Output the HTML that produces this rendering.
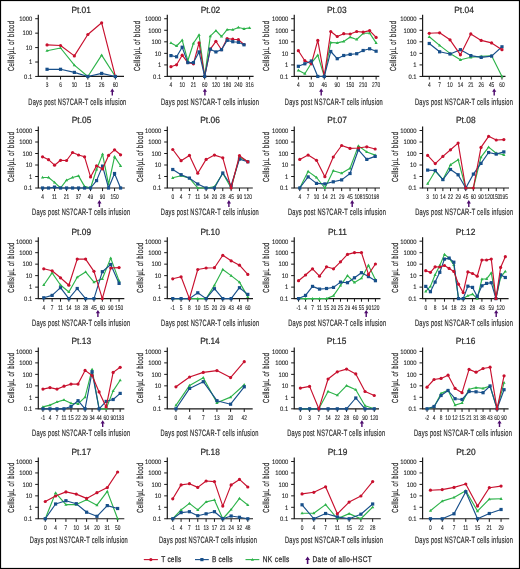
<!DOCTYPE html>
<html><head><meta charset="utf-8"><title>Figure</title>
<style>html,body{margin:0;padding:0;background:#fff;}body{width:520px;height:569px;overflow:hidden;}svg{display:block;will-change:transform;font-family:"Liberation Sans", sans-serif;text-rendering:geometricPrecision;} .b{stroke:#2a2a2a;stroke-width:0.28px;} .xb{stroke:#2a2a2a;stroke-width:0.2px;} .yb{stroke:#2a2a2a;stroke-width:0.22px;} .lb{stroke:#2a2a2a;stroke-width:0.25px;} .c{stroke:#2a2a2a;stroke-width:0.12px;} .t{stroke:#2a2a2a;stroke-width:0.22px;}</style>
</head><body>
<svg xmlns="http://www.w3.org/2000/svg" width="520" height="569" viewBox="0 0 520 569">
<rect x="0" y="0" width="520" height="569" fill="#fff"/>
<defs><circle id="mr" r="1.6" fill="#c8102e"/><rect id="mb" x="-1.6" y="-1.6" width="3.2" height="3.2" fill="#174f8a"/><path id="mg" d="M0,-1.7 L1.6,1.1 L-1.6,1.1 Z" fill="#2db34a"/><path id="ar" d="M0,0 L2.1,3.3 L0.7,3.3 L0.7,6.9 L-0.7,6.9 L-0.7,3.3 L-2.1,3.3 Z" fill="#4e0b6e"/></defs>
<g><text class="t" transform="translate(81.15,12.7) scale(0.93,1)" text-anchor="middle" font-size="9.0" fill="#2a2a2a">Pt.01</text><path d="M38.3,14.73V76.45H124" fill="none" stroke="#1a1a1a" stroke-width="1.2"/><path d="M35.2,76.45H38.3M35.2,62.02H38.3M35.2,47.59H38.3M35.2,33.16H38.3M35.2,18.73H38.3M47.05,76.45V79.55M60.55,76.45V79.55M74.35,76.45V79.55M87.85,76.45V79.55M101.65,76.45V79.55M115.35,76.45V79.55" stroke="#1a1a1a" stroke-width="1"/><text class="c" transform="translate(32.3,78.75) scale(0.92,1)" text-anchor="end" font-size="6.4" fill="#2a2a2a">0.1</text><text class="c" transform="translate(32.3,64.32) scale(0.92,1)" text-anchor="end" font-size="6.4" fill="#2a2a2a">1</text><text class="c" transform="translate(32.3,49.89) scale(0.92,1)" text-anchor="end" font-size="6.4" fill="#2a2a2a">10</text><text class="c" transform="translate(32.3,35.46) scale(0.92,1)" text-anchor="end" font-size="6.4" fill="#2a2a2a">100</text><text class="c" transform="translate(32.3,21.03) scale(0.92,1)" text-anchor="end" font-size="6.4" fill="#2a2a2a">1000</text><text class="c" transform="translate(47.05,87.3) scale(0.71,1)" text-anchor="middle" font-size="6.8" fill="#2a2a2a">3</text><text class="c" transform="translate(60.55,87.3) scale(0.71,1)" text-anchor="middle" font-size="6.8" fill="#2a2a2a">6</text><text class="c" transform="translate(74.35,87.3) scale(0.71,1)" text-anchor="middle" font-size="6.8" fill="#2a2a2a">10</text><text class="c" transform="translate(87.85,87.3) scale(0.71,1)" text-anchor="middle" font-size="6.8" fill="#2a2a2a">13</text><text class="c" transform="translate(101.65,87.3) scale(0.71,1)" text-anchor="middle" font-size="6.8" fill="#2a2a2a">26</text><text class="c" transform="translate(115.35,87.3) scale(0.71,1)" text-anchor="middle" font-size="6.8" fill="#2a2a2a">60</text><polyline points="47.05,50.7 60.55,48 74.35,65.1 87.85,76.45 101.65,55.1 115.35,76.45" fill="none" stroke="#2db34a" stroke-width="1.15" stroke-linejoin="round"/><use href="#mg" x="47.05" y="50.7"/><use href="#mg" x="60.55" y="48"/><use href="#mg" x="74.35" y="65.1"/><use href="#mg" x="87.85" y="76.45"/><use href="#mg" x="101.65" y="55.1"/><use href="#mg" x="115.35" y="76.45"/><polyline points="47.05,44.9 60.55,45.5 74.35,55.9 87.85,34.5 101.65,22.8 115.35,76.45" fill="none" stroke="#c8102e" stroke-width="1.15" stroke-linejoin="round"/><use href="#mr" x="47.05" y="44.9"/><use href="#mr" x="60.55" y="45.5"/><use href="#mr" x="74.35" y="55.9"/><use href="#mr" x="87.85" y="34.5"/><use href="#mr" x="101.65" y="22.8"/><use href="#mr" x="115.35" y="76.45"/><polyline points="47.05,69.3 60.55,69.3 74.35,72.4 87.85,76.45 101.65,73.4 115.35,76.45" fill="none" stroke="#174f8a" stroke-width="1.15" stroke-linejoin="round"/><use href="#mb" x="47.05" y="69.3"/><use href="#mb" x="60.55" y="69.3"/><use href="#mb" x="74.35" y="72.4"/><use href="#mb" x="87.85" y="76.45"/><use href="#mb" x="101.65" y="73.4"/><use href="#mb" x="115.35" y="76.45"/><use href="#ar" x="112.3" y="88.5"/><text class="xb" transform="translate(28.3,104.5) scale(0.62,1)" font-size="9.2" textLength="158.06" lengthAdjust="spacing" fill="#2a2a2a">Days post NS7CAR-T cells infusion</text><text class="yb" transform="translate(13.7,46.05) rotate(-90) scale(0.66,1)" text-anchor="middle" font-size="8.8" textLength="75.76" lengthAdjust="spacing" fill="#2a2a2a">Cells/µL of blood</text></g>
<g><text class="t" transform="translate(210.45,12.7) scale(0.93,1)" text-anchor="middle" font-size="9.0" fill="#2a2a2a">Pt.02</text><path d="M167.3,14.73V76.45H253.6" fill="none" stroke="#1a1a1a" stroke-width="1.2"/><path d="M164.2,76.45H167.3M164.2,64.91H167.3M164.2,53.36H167.3M164.2,41.82H167.3M164.2,30.27H167.3M164.2,18.73H167.3M170.95,76.45V79.55M182.19,76.45V79.55M193.43,76.45V79.55M204.67,76.45V79.55M215.91,76.45V79.55M227.15,76.45V79.55M238.39,76.45V79.55M249.63,76.45V79.55" stroke="#1a1a1a" stroke-width="1"/><text class="c" transform="translate(161.3,78.75) scale(0.92,1)" text-anchor="end" font-size="6.4" fill="#2a2a2a">0.1</text><text class="c" transform="translate(161.3,67.21) scale(0.92,1)" text-anchor="end" font-size="6.4" fill="#2a2a2a">1</text><text class="c" transform="translate(161.3,55.66) scale(0.92,1)" text-anchor="end" font-size="6.4" fill="#2a2a2a">10</text><text class="c" transform="translate(161.3,44.12) scale(0.92,1)" text-anchor="end" font-size="6.4" fill="#2a2a2a">100</text><text class="c" transform="translate(161.3,32.57) scale(0.92,1)" text-anchor="end" font-size="6.4" fill="#2a2a2a">1000</text><text class="c" transform="translate(161.3,21.03) scale(0.92,1)" text-anchor="end" font-size="6.4" fill="#2a2a2a">10000</text><text class="c" transform="translate(170.95,87.3) scale(0.71,1)" text-anchor="middle" font-size="6.8" fill="#2a2a2a">4</text><text class="c" transform="translate(182.19,87.3) scale(0.71,1)" text-anchor="middle" font-size="6.8" fill="#2a2a2a">10</text><text class="c" transform="translate(193.43,87.3) scale(0.71,1)" text-anchor="middle" font-size="6.8" fill="#2a2a2a">21</text><text class="c" transform="translate(204.67,87.3) scale(0.71,1)" text-anchor="middle" font-size="6.8" fill="#2a2a2a">60</text><text class="c" transform="translate(215.91,87.3) scale(0.71,1)" text-anchor="middle" font-size="6.8" fill="#2a2a2a">120</text><text class="c" transform="translate(227.15,87.3) scale(0.71,1)" text-anchor="middle" font-size="6.8" fill="#2a2a2a">180</text><text class="c" transform="translate(238.39,87.3) scale(0.71,1)" text-anchor="middle" font-size="6.8" fill="#2a2a2a">240</text><text class="c" transform="translate(249.63,87.3) scale(0.71,1)" text-anchor="middle" font-size="6.8" fill="#2a2a2a">316</text><polyline points="170.95,42.9 176.57,46 182.19,40.2 187.81,60.7 193.43,43.3 199.05,34.9 204.67,76.45 210.29,36.1 215.91,30.6 221.53,36.5 227.15,29.6 232.77,29.7 238.39,27.5 244.01,28.8 249.63,27.9" fill="none" stroke="#2db34a" stroke-width="1.15" stroke-linejoin="round"/><use href="#mg" x="170.95" y="42.9"/><use href="#mg" x="176.57" y="46"/><use href="#mg" x="182.19" y="40.2"/><use href="#mg" x="187.81" y="60.7"/><use href="#mg" x="193.43" y="43.3"/><use href="#mg" x="199.05" y="34.9"/><use href="#mg" x="204.67" y="76.45"/><use href="#mg" x="210.29" y="36.1"/><use href="#mg" x="215.91" y="30.6"/><use href="#mg" x="221.53" y="36.5"/><use href="#mg" x="227.15" y="29.6"/><use href="#mg" x="232.77" y="29.7"/><use href="#mg" x="238.39" y="27.5"/><use href="#mg" x="244.01" y="28.8"/><use href="#mg" x="249.63" y="27.9"/><polyline points="170.95,66.7 176.57,64.8 182.19,55.2 187.81,62.6 193.43,63.8 199.05,42.9 204.67,76.45 210.29,49.1 215.91,41.3 221.53,49.7 227.15,38.6 232.77,39.2 238.39,39.6 244.01,44.5" fill="none" stroke="#c8102e" stroke-width="1.15" stroke-linejoin="round"/><use href="#mr" x="170.95" y="66.7"/><use href="#mr" x="176.57" y="64.8"/><use href="#mr" x="182.19" y="55.2"/><use href="#mr" x="187.81" y="62.6"/><use href="#mr" x="193.43" y="63.8"/><use href="#mr" x="199.05" y="42.9"/><use href="#mr" x="204.67" y="76.45"/><use href="#mr" x="210.29" y="49.1"/><use href="#mr" x="215.91" y="41.3"/><use href="#mr" x="221.53" y="49.7"/><use href="#mr" x="227.15" y="38.6"/><use href="#mr" x="232.77" y="39.2"/><use href="#mr" x="238.39" y="39.6"/><use href="#mr" x="244.01" y="44.5"/><polyline points="170.95,55.6 176.57,56.8 182.19,47.2 187.81,62.6 193.43,62.6 199.05,51.9 204.67,76.45 210.29,49.2 215.91,51.9 221.53,49.7 227.15,40.4 232.77,41.7 238.39,42.3 244.01,44.8" fill="none" stroke="#174f8a" stroke-width="1.15" stroke-linejoin="round"/><use href="#mb" x="170.95" y="55.6"/><use href="#mb" x="176.57" y="56.8"/><use href="#mb" x="182.19" y="47.2"/><use href="#mb" x="187.81" y="62.6"/><use href="#mb" x="193.43" y="62.6"/><use href="#mb" x="199.05" y="51.9"/><use href="#mb" x="204.67" y="76.45"/><use href="#mb" x="210.29" y="49.2"/><use href="#mb" x="215.91" y="51.9"/><use href="#mb" x="221.53" y="49.7"/><use href="#mb" x="227.15" y="40.4"/><use href="#mb" x="232.77" y="41.7"/><use href="#mb" x="238.39" y="42.3"/><use href="#mb" x="244.01" y="44.8"/><use href="#ar" x="204.9" y="88.5"/><text class="xb" transform="translate(161,104.5) scale(0.62,1)" font-size="9.2" textLength="158.06" lengthAdjust="spacing" fill="#2a2a2a">Days post NS7CAR-T cells infusion</text><text class="yb" transform="translate(139.7,46.05) rotate(-90) scale(0.66,1)" text-anchor="middle" font-size="8.8" textLength="75.76" lengthAdjust="spacing" fill="#2a2a2a">Cells/µL of blood</text></g>
<g><text class="t" transform="translate(336.77,12.7) scale(0.93,1)" text-anchor="middle" font-size="9.0" fill="#2a2a2a">Pt.03</text><path d="M294.25,14.73V76.45H379.3" fill="none" stroke="#1a1a1a" stroke-width="1.2"/><path d="M291.15,76.45H294.25M291.15,64.91H294.25M291.15,53.36H294.25M291.15,41.82H294.25M291.15,30.27H294.25M291.15,18.73H294.25M298.35,76.45V79.55M311.31,76.45V79.55M324.27,76.45V79.55M337.23,76.45V79.55M350.19,76.45V79.55M363.15,76.45V79.55M376.11,76.45V79.55" stroke="#1a1a1a" stroke-width="1"/><text class="c" transform="translate(288.25,78.75) scale(0.92,1)" text-anchor="end" font-size="6.4" fill="#2a2a2a">0.1</text><text class="c" transform="translate(288.25,67.21) scale(0.92,1)" text-anchor="end" font-size="6.4" fill="#2a2a2a">1</text><text class="c" transform="translate(288.25,55.66) scale(0.92,1)" text-anchor="end" font-size="6.4" fill="#2a2a2a">10</text><text class="c" transform="translate(288.25,44.12) scale(0.92,1)" text-anchor="end" font-size="6.4" fill="#2a2a2a">100</text><text class="c" transform="translate(288.25,32.57) scale(0.92,1)" text-anchor="end" font-size="6.4" fill="#2a2a2a">1000</text><text class="c" transform="translate(288.25,21.03) scale(0.92,1)" text-anchor="end" font-size="6.4" fill="#2a2a2a">10000</text><text class="c" transform="translate(298.35,87.3) scale(0.71,1)" text-anchor="middle" font-size="6.8" fill="#2a2a2a">4</text><text class="c" transform="translate(311.31,87.3) scale(0.71,1)" text-anchor="middle" font-size="6.8" fill="#2a2a2a">10</text><text class="c" transform="translate(324.27,87.3) scale(0.71,1)" text-anchor="middle" font-size="6.8" fill="#2a2a2a">46</text><text class="c" transform="translate(337.23,87.3) scale(0.71,1)" text-anchor="middle" font-size="6.8" fill="#2a2a2a">90</text><text class="c" transform="translate(350.19,87.3) scale(0.71,1)" text-anchor="middle" font-size="6.8" fill="#2a2a2a">150</text><text class="c" transform="translate(363.15,87.3) scale(0.71,1)" text-anchor="middle" font-size="6.8" fill="#2a2a2a">210</text><text class="c" transform="translate(376.11,87.3) scale(0.71,1)" text-anchor="middle" font-size="6.8" fill="#2a2a2a">270</text><polyline points="298.35,70.3 304.83,73.7 311.31,63.2 317.79,55.2 324.27,76.45 330.75,42.5 337.23,42.9 343.71,41.4 350.19,37.1 356.67,39.5 363.15,33.3 369.63,33.1 376.11,42.9" fill="none" stroke="#2db34a" stroke-width="1.15" stroke-linejoin="round"/><use href="#mg" x="298.35" y="70.3"/><use href="#mg" x="304.83" y="73.7"/><use href="#mg" x="311.31" y="63.2"/><use href="#mg" x="317.79" y="55.2"/><use href="#mg" x="324.27" y="76.45"/><use href="#mg" x="330.75" y="42.5"/><use href="#mg" x="337.23" y="42.9"/><use href="#mg" x="343.71" y="41.4"/><use href="#mg" x="350.19" y="37.1"/><use href="#mg" x="356.67" y="39.5"/><use href="#mg" x="363.15" y="33.3"/><use href="#mg" x="369.63" y="33.1"/><use href="#mg" x="376.11" y="42.9"/><polyline points="298.35,50.7 304.83,60.7 311.31,63.8 317.79,40.4 324.27,76.45 330.75,31.5 337.23,36.5 343.71,33.7 350.19,34 356.67,31.5 363.15,32.1 369.63,30.6 376.11,37.4" fill="none" stroke="#c8102e" stroke-width="1.15" stroke-linejoin="round"/><use href="#mr" x="298.35" y="50.7"/><use href="#mr" x="304.83" y="60.7"/><use href="#mr" x="311.31" y="63.8"/><use href="#mr" x="317.79" y="40.4"/><use href="#mr" x="324.27" y="76.45"/><use href="#mr" x="330.75" y="31.5"/><use href="#mr" x="337.23" y="36.5"/><use href="#mr" x="343.71" y="33.7"/><use href="#mr" x="350.19" y="34"/><use href="#mr" x="356.67" y="31.5"/><use href="#mr" x="363.15" y="32.1"/><use href="#mr" x="369.63" y="30.6"/><use href="#mr" x="376.11" y="37.4"/><polyline points="298.35,66.3 304.83,63.8 311.31,61 317.79,76.45 324.27,76.45 330.75,51.5 337.23,58.7 343.71,55.5 350.19,54.4 356.67,53.7 363.15,50.5 369.63,48.8 376.11,51.2" fill="none" stroke="#174f8a" stroke-width="1.15" stroke-linejoin="round"/><use href="#mb" x="298.35" y="66.3"/><use href="#mb" x="304.83" y="63.8"/><use href="#mb" x="311.31" y="61"/><use href="#mb" x="317.79" y="76.45"/><use href="#mb" x="324.27" y="76.45"/><use href="#mb" x="330.75" y="51.5"/><use href="#mb" x="337.23" y="58.7"/><use href="#mb" x="343.71" y="55.5"/><use href="#mb" x="350.19" y="54.4"/><use href="#mb" x="356.67" y="53.7"/><use href="#mb" x="363.15" y="50.5"/><use href="#mb" x="369.63" y="48.8"/><use href="#mb" x="376.11" y="51.2"/><use href="#ar" x="321.2" y="88.5"/><text class="xb" transform="translate(284.8,104.5) scale(0.62,1)" font-size="9.2" textLength="158.06" lengthAdjust="spacing" fill="#2a2a2a">Days post NS7CAR-T cells infusion</text><text class="yb" transform="translate(268.8,46.05) rotate(-90) scale(0.66,1)" text-anchor="middle" font-size="8.8" textLength="75.76" lengthAdjust="spacing" fill="#2a2a2a">Cells/µL of blood</text></g>
<g><text class="t" transform="translate(464.05,12.7) scale(0.93,1)" text-anchor="middle" font-size="9.0" fill="#2a2a2a">Pt.04</text><path d="M422.6,14.73V76.45H505.5" fill="none" stroke="#1a1a1a" stroke-width="1.2"/><path d="M419.5,76.45H422.6M419.5,64.91H422.6M419.5,53.36H422.6M419.5,41.82H422.6M419.5,30.27H422.6M419.5,18.73H422.6M429.25,76.45V79.55M439.64,76.45V79.55M450.03,76.45V79.55M460.42,76.45V79.55M470.81,76.45V79.55M481.2,76.45V79.55M491.59,76.45V79.55M501.98,76.45V79.55" stroke="#1a1a1a" stroke-width="1"/><text class="c" transform="translate(416.6,78.75) scale(0.92,1)" text-anchor="end" font-size="6.4" fill="#2a2a2a">0.1</text><text class="c" transform="translate(416.6,67.21) scale(0.92,1)" text-anchor="end" font-size="6.4" fill="#2a2a2a">1</text><text class="c" transform="translate(416.6,55.66) scale(0.92,1)" text-anchor="end" font-size="6.4" fill="#2a2a2a">10</text><text class="c" transform="translate(416.6,44.12) scale(0.92,1)" text-anchor="end" font-size="6.4" fill="#2a2a2a">100</text><text class="c" transform="translate(416.6,32.57) scale(0.92,1)" text-anchor="end" font-size="6.4" fill="#2a2a2a">1000</text><text class="c" transform="translate(416.6,21.03) scale(0.92,1)" text-anchor="end" font-size="6.4" fill="#2a2a2a">10000</text><text class="c" transform="translate(429.25,87.3) scale(0.71,1)" text-anchor="middle" font-size="6.8" fill="#2a2a2a">4</text><text class="c" transform="translate(439.64,87.3) scale(0.71,1)" text-anchor="middle" font-size="6.8" fill="#2a2a2a">7</text><text class="c" transform="translate(450.03,87.3) scale(0.71,1)" text-anchor="middle" font-size="6.8" fill="#2a2a2a">10</text><text class="c" transform="translate(460.42,87.3) scale(0.71,1)" text-anchor="middle" font-size="6.8" fill="#2a2a2a">14</text><text class="c" transform="translate(470.81,87.3) scale(0.71,1)" text-anchor="middle" font-size="6.8" fill="#2a2a2a">21</text><text class="c" transform="translate(481.2,87.3) scale(0.71,1)" text-anchor="middle" font-size="6.8" fill="#2a2a2a">26</text><text class="c" transform="translate(491.59,87.3) scale(0.71,1)" text-anchor="middle" font-size="6.8" fill="#2a2a2a">45</text><text class="c" transform="translate(501.98,87.3) scale(0.71,1)" text-anchor="middle" font-size="6.8" fill="#2a2a2a">60</text><polyline points="429.25,36.8 439.64,45.4 450.03,53.4 460.42,59.8 470.81,57.3 481.2,56.4 491.59,55.8 501.98,76.45" fill="none" stroke="#2db34a" stroke-width="1.15" stroke-linejoin="round"/><use href="#mg" x="429.25" y="36.8"/><use href="#mg" x="439.64" y="45.4"/><use href="#mg" x="450.03" y="53.4"/><use href="#mg" x="460.42" y="59.8"/><use href="#mg" x="470.81" y="57.3"/><use href="#mg" x="481.2" y="56.4"/><use href="#mg" x="491.59" y="55.8"/><use href="#mg" x="501.98" y="76.45"/><polyline points="429.25,43.5 439.64,51.8 450.03,54 460.42,49.7 470.81,55.6 481.2,57.4 491.59,56.1 501.98,46.8" fill="none" stroke="#174f8a" stroke-width="1.15" stroke-linejoin="round"/><use href="#mb" x="429.25" y="43.5"/><use href="#mb" x="439.64" y="51.8"/><use href="#mb" x="450.03" y="54"/><use href="#mb" x="460.42" y="49.7"/><use href="#mb" x="470.81" y="55.6"/><use href="#mb" x="481.2" y="57.4"/><use href="#mb" x="491.59" y="56.1"/><use href="#mb" x="501.98" y="46.8"/><polyline points="429.25,33.3 439.64,32.8 450.03,39.8 460.42,54.8 470.81,33.9 481.2,40.4 491.59,42.9 501.98,49.7" fill="none" stroke="#c8102e" stroke-width="1.15" stroke-linejoin="round"/><use href="#mr" x="429.25" y="33.3"/><use href="#mr" x="439.64" y="32.8"/><use href="#mr" x="450.03" y="39.8"/><use href="#mr" x="460.42" y="54.8"/><use href="#mr" x="470.81" y="33.9"/><use href="#mr" x="481.2" y="40.4"/><use href="#mr" x="491.59" y="42.9"/><use href="#mr" x="501.98" y="49.7"/><use href="#ar" x="494.2" y="88.5"/><text class="xb" transform="translate(415,104.5) scale(0.62,1)" font-size="9.2" textLength="158.06" lengthAdjust="spacing" fill="#2a2a2a">Days post NS7CAR-T cells infusion</text><text class="yb" transform="translate(395.6,46.05) rotate(-90) scale(0.66,1)" text-anchor="middle" font-size="8.8" textLength="75.76" lengthAdjust="spacing" fill="#2a2a2a">Cells/µL of blood</text></g>
<g><text class="t" transform="translate(81.55,123.2) scale(0.93,1)" text-anchor="middle" font-size="9.0" fill="#2a2a2a">Pt.05</text><path d="M38.3,126.5V188H124.8" fill="none" stroke="#1a1a1a" stroke-width="1.2"/><path d="M35.2,188H38.3M35.2,176.5H38.3M35.2,165H38.3M35.2,153.5H38.3M35.2,142H38.3M35.2,130.5H38.3M42.55,188V191.1M54.55,188V191.1M66.55,188V191.1M78.55,188V191.1M90.55,188V191.1M102.55,188V191.1M114.55,188V191.1" stroke="#1a1a1a" stroke-width="1"/><text class="c" transform="translate(32.3,190.3) scale(0.92,1)" text-anchor="end" font-size="6.4" fill="#2a2a2a">0.1</text><text class="c" transform="translate(32.3,178.8) scale(0.92,1)" text-anchor="end" font-size="6.4" fill="#2a2a2a">1</text><text class="c" transform="translate(32.3,167.3) scale(0.92,1)" text-anchor="end" font-size="6.4" fill="#2a2a2a">10</text><text class="c" transform="translate(32.3,155.8) scale(0.92,1)" text-anchor="end" font-size="6.4" fill="#2a2a2a">100</text><text class="c" transform="translate(32.3,144.3) scale(0.92,1)" text-anchor="end" font-size="6.4" fill="#2a2a2a">1000</text><text class="c" transform="translate(32.3,132.8) scale(0.92,1)" text-anchor="end" font-size="6.4" fill="#2a2a2a">10000</text><text class="c" transform="translate(42.55,198.8) scale(0.71,1)" text-anchor="middle" font-size="6.8" fill="#2a2a2a">4</text><text class="c" transform="translate(54.55,198.8) scale(0.71,1)" text-anchor="middle" font-size="6.8" fill="#2a2a2a">11</text><text class="c" transform="translate(66.55,198.8) scale(0.71,1)" text-anchor="middle" font-size="6.8" fill="#2a2a2a">21</text><text class="c" transform="translate(78.55,198.8) scale(0.71,1)" text-anchor="middle" font-size="6.8" fill="#2a2a2a">37</text><text class="c" transform="translate(90.55,198.8) scale(0.71,1)" text-anchor="middle" font-size="6.8" fill="#2a2a2a">49</text><text class="c" transform="translate(102.55,198.8) scale(0.71,1)" text-anchor="middle" font-size="6.8" fill="#2a2a2a">90</text><text class="c" transform="translate(114.55,198.8) scale(0.71,1)" text-anchor="middle" font-size="6.8" fill="#2a2a2a">150</text><polyline points="42.55,177.5 48.55,177.5 54.55,182.4 60.55,188 66.55,180.2 72.55,177.5 78.55,175.9 84.55,186.4 90.55,188 96.55,169.5 102.55,154.1 108.55,184.3 114.55,156.6 120.55,165.8" fill="none" stroke="#2db34a" stroke-width="1.15" stroke-linejoin="round"/><use href="#mg" x="42.55" y="177.5"/><use href="#mg" x="48.55" y="177.5"/><use href="#mg" x="54.55" y="182.4"/><use href="#mg" x="60.55" y="188"/><use href="#mg" x="66.55" y="180.2"/><use href="#mg" x="72.55" y="177.5"/><use href="#mg" x="78.55" y="175.9"/><use href="#mg" x="84.55" y="186.4"/><use href="#mg" x="90.55" y="188"/><use href="#mg" x="96.55" y="169.5"/><use href="#mg" x="102.55" y="154.1"/><use href="#mg" x="108.55" y="184.3"/><use href="#mg" x="114.55" y="156.6"/><use href="#mg" x="120.55" y="165.8"/><polyline points="42.55,188 48.55,188 54.55,187.1 60.55,188 66.55,188 72.55,188 78.55,188 84.55,188 90.55,188 96.55,180.6 102.55,166.1 108.55,188 114.55,173.5 120.55,188" fill="none" stroke="#174f8a" stroke-width="1.15" stroke-linejoin="round"/><use href="#mb" x="42.55" y="188"/><use href="#mb" x="48.55" y="188"/><use href="#mb" x="54.55" y="187.1"/><use href="#mb" x="60.55" y="188"/><use href="#mb" x="66.55" y="188"/><use href="#mb" x="72.55" y="188"/><use href="#mb" x="78.55" y="188"/><use href="#mb" x="84.55" y="188"/><use href="#mb" x="90.55" y="188"/><use href="#mb" x="96.55" y="180.6"/><use href="#mb" x="102.55" y="166.1"/><use href="#mb" x="108.55" y="188"/><use href="#mb" x="114.55" y="173.5"/><use href="#mb" x="120.55" y="188"/><polyline points="42.55,156.8 48.55,159.7 54.55,165.2 60.55,160.3 66.55,160.5 72.55,152.5 78.55,155 84.55,156.8 90.55,176.9 96.55,165.8 102.55,168.9 108.55,155.4 114.55,149.8 120.55,154.8" fill="none" stroke="#c8102e" stroke-width="1.15" stroke-linejoin="round"/><use href="#mr" x="42.55" y="156.8"/><use href="#mr" x="48.55" y="159.7"/><use href="#mr" x="54.55" y="165.2"/><use href="#mr" x="60.55" y="160.3"/><use href="#mr" x="66.55" y="160.5"/><use href="#mr" x="72.55" y="152.5"/><use href="#mr" x="78.55" y="155"/><use href="#mr" x="84.55" y="156.8"/><use href="#mr" x="90.55" y="176.9"/><use href="#mr" x="96.55" y="165.8"/><use href="#mr" x="102.55" y="168.9"/><use href="#mr" x="108.55" y="155.4"/><use href="#mr" x="114.55" y="149.8"/><use href="#mr" x="120.55" y="154.8"/><use href="#ar" x="99.4" y="200.1"/><text class="xb" transform="translate(32.1,215.1) scale(0.62,1)" font-size="9.2" textLength="158.06" lengthAdjust="spacing" fill="#2a2a2a">Days post NS7CAR-T cells infusion</text><text class="yb" transform="translate(13.7,157.1) rotate(-90) scale(0.66,1)" text-anchor="middle" font-size="8.8" textLength="75.76" lengthAdjust="spacing" fill="#2a2a2a">Cells/µL of blood</text></g>
<g><text class="t" transform="translate(210.05,123.2) scale(0.93,1)" text-anchor="middle" font-size="9.0" fill="#2a2a2a">Pt.06</text><path d="M167.3,126.5V188H252.8" fill="none" stroke="#1a1a1a" stroke-width="1.2"/><path d="M164.2,188H167.3M164.2,176.5H167.3M164.2,165H167.3M164.2,153.5H167.3M164.2,142H167.3M164.2,130.5H167.3M172.75,188V191.1M181.09,188V191.1M189.43,188V191.1M197.77,188V191.1M206.11,188V191.1M214.45,188V191.1M222.79,188V191.1M231.13,188V191.1M239.47,188V191.1M247.81,188V191.1" stroke="#1a1a1a" stroke-width="1"/><text class="c" transform="translate(161.3,190.3) scale(0.92,1)" text-anchor="end" font-size="6.4" fill="#2a2a2a">0.1</text><text class="c" transform="translate(161.3,178.8) scale(0.92,1)" text-anchor="end" font-size="6.4" fill="#2a2a2a">1</text><text class="c" transform="translate(161.3,167.3) scale(0.92,1)" text-anchor="end" font-size="6.4" fill="#2a2a2a">10</text><text class="c" transform="translate(161.3,155.8) scale(0.92,1)" text-anchor="end" font-size="6.4" fill="#2a2a2a">100</text><text class="c" transform="translate(161.3,144.3) scale(0.92,1)" text-anchor="end" font-size="6.4" fill="#2a2a2a">1000</text><text class="c" transform="translate(161.3,132.8) scale(0.92,1)" text-anchor="end" font-size="6.4" fill="#2a2a2a">10000</text><text class="c" transform="translate(172.75,198.8) scale(0.71,1)" text-anchor="middle" font-size="6.8" fill="#2a2a2a">0</text><text class="c" transform="translate(181.09,198.8) scale(0.71,1)" text-anchor="middle" font-size="6.8" fill="#2a2a2a">4</text><text class="c" transform="translate(189.43,198.8) scale(0.71,1)" text-anchor="middle" font-size="6.8" fill="#2a2a2a">7</text><text class="c" transform="translate(197.77,198.8) scale(0.71,1)" text-anchor="middle" font-size="6.8" fill="#2a2a2a">11</text><text class="c" transform="translate(206.11,198.8) scale(0.71,1)" text-anchor="middle" font-size="6.8" fill="#2a2a2a">14</text><text class="c" transform="translate(214.45,198.8) scale(0.71,1)" text-anchor="middle" font-size="6.8" fill="#2a2a2a">20</text><text class="c" transform="translate(222.79,198.8) scale(0.71,1)" text-anchor="middle" font-size="6.8" fill="#2a2a2a">28</text><text class="c" transform="translate(231.13,198.8) scale(0.71,1)" text-anchor="middle" font-size="6.8" fill="#2a2a2a">45</text><text class="c" transform="translate(239.47,198.8) scale(0.71,1)" text-anchor="middle" font-size="6.8" fill="#2a2a2a">90</text><text class="c" transform="translate(247.81,198.8) scale(0.71,1)" text-anchor="middle" font-size="6.8" fill="#2a2a2a">120</text><polyline points="172.75,177.8 181.09,175.7 189.43,178.1 197.77,188 206.11,188 214.45,186.8 222.79,173.3 231.13,188 239.47,157.2 247.81,161.5" fill="none" stroke="#2db34a" stroke-width="1.15" stroke-linejoin="round"/><use href="#mg" x="172.75" y="177.8"/><use href="#mg" x="181.09" y="175.7"/><use href="#mg" x="189.43" y="178.1"/><use href="#mg" x="197.77" y="188"/><use href="#mg" x="206.11" y="188"/><use href="#mg" x="214.45" y="186.8"/><use href="#mg" x="222.79" y="173.3"/><use href="#mg" x="231.13" y="188"/><use href="#mg" x="239.47" y="157.2"/><use href="#mg" x="247.81" y="161.5"/><polyline points="172.75,169.5 181.09,174.7 189.43,178.1 197.77,184 206.11,188 214.45,188 222.79,173 231.13,185.5 239.47,159.1 247.81,161.8" fill="none" stroke="#174f8a" stroke-width="1.15" stroke-linejoin="round"/><use href="#mb" x="172.75" y="169.5"/><use href="#mb" x="181.09" y="174.7"/><use href="#mb" x="189.43" y="178.1"/><use href="#mb" x="197.77" y="184"/><use href="#mb" x="206.11" y="188"/><use href="#mb" x="214.45" y="188"/><use href="#mb" x="222.79" y="173"/><use href="#mb" x="231.13" y="185.5"/><use href="#mb" x="239.47" y="159.1"/><use href="#mb" x="247.81" y="161.8"/><polyline points="172.75,149.5 181.09,160.7 189.43,155.4 197.77,173.2 206.11,159.4 214.45,155.1 222.79,157.8 231.13,188 239.47,155.7 247.81,161.8" fill="none" stroke="#c8102e" stroke-width="1.15" stroke-linejoin="round"/><use href="#mr" x="172.75" y="149.5"/><use href="#mr" x="181.09" y="160.7"/><use href="#mr" x="189.43" y="155.4"/><use href="#mr" x="197.77" y="173.2"/><use href="#mr" x="206.11" y="159.4"/><use href="#mr" x="214.45" y="155.1"/><use href="#mr" x="222.79" y="157.8"/><use href="#mr" x="231.13" y="188"/><use href="#mr" x="239.47" y="155.7"/><use href="#mr" x="247.81" y="161.8"/><use href="#ar" x="228.9" y="200.1"/><text class="xb" transform="translate(160.8,215.1) scale(0.62,1)" font-size="9.2" textLength="158.06" lengthAdjust="spacing" fill="#2a2a2a">Days post NS7CAR-T cells infusion</text><text class="yb" transform="translate(142.6,157.1) rotate(-90) scale(0.66,1)" text-anchor="middle" font-size="8.8" textLength="75.76" lengthAdjust="spacing" fill="#2a2a2a">Cells/µL of blood</text></g>
<g><text class="t" transform="translate(337.12,123.2) scale(0.93,1)" text-anchor="middle" font-size="9.0" fill="#2a2a2a">Pt.07</text><path d="M294.25,126.5V188H380" fill="none" stroke="#1a1a1a" stroke-width="1.2"/><path d="M291.15,188H294.25M291.15,176.5H294.25M291.15,165H294.25M291.15,153.5H294.25M291.15,142H294.25M291.15,130.5H294.25M299.75,188V191.1M308.13,188V191.1M316.51,188V191.1M324.89,188V191.1M333.27,188V191.1M341.65,188V191.1M350.03,188V191.1M358.41,188V191.1M366.79,188V191.1M375.17,188V191.1" stroke="#1a1a1a" stroke-width="1"/><text class="c" transform="translate(288.25,190.3) scale(0.92,1)" text-anchor="end" font-size="6.4" fill="#2a2a2a">0.1</text><text class="c" transform="translate(288.25,178.8) scale(0.92,1)" text-anchor="end" font-size="6.4" fill="#2a2a2a">1</text><text class="c" transform="translate(288.25,167.3) scale(0.92,1)" text-anchor="end" font-size="6.4" fill="#2a2a2a">10</text><text class="c" transform="translate(288.25,155.8) scale(0.92,1)" text-anchor="end" font-size="6.4" fill="#2a2a2a">100</text><text class="c" transform="translate(288.25,144.3) scale(0.92,1)" text-anchor="end" font-size="6.4" fill="#2a2a2a">1000</text><text class="c" transform="translate(288.25,132.8) scale(0.92,1)" text-anchor="end" font-size="6.4" fill="#2a2a2a">10000</text><text class="c" transform="translate(299.75,198.8) scale(0.71,1)" text-anchor="middle" font-size="6.8" fill="#2a2a2a">4</text><text class="c" transform="translate(308.13,198.8) scale(0.71,1)" text-anchor="middle" font-size="6.8" fill="#2a2a2a">7</text><text class="c" transform="translate(316.51,198.8) scale(0.71,1)" text-anchor="middle" font-size="6.8" fill="#2a2a2a">10</text><text class="c" transform="translate(324.89,198.8) scale(0.71,1)" text-anchor="middle" font-size="6.8" fill="#2a2a2a">14</text><text class="c" transform="translate(333.27,198.8) scale(0.71,1)" text-anchor="middle" font-size="6.8" fill="#2a2a2a">21</text><text class="c" transform="translate(341.65,198.8) scale(0.71,1)" text-anchor="middle" font-size="6.8" fill="#2a2a2a">29</text><text class="c" transform="translate(350.03,198.8) scale(0.71,1)" text-anchor="middle" font-size="6.8" fill="#2a2a2a">45</text><text class="c" transform="translate(358.41,198.8) scale(0.71,1)" text-anchor="middle" font-size="6.8" fill="#2a2a2a">108</text><text class="c" transform="translate(366.79,198.8) scale(0.71,1)" text-anchor="middle" font-size="6.8" fill="#2a2a2a">150</text><text class="c" transform="translate(375.17,198.8) scale(0.71,1)" text-anchor="middle" font-size="6.8" fill="#2a2a2a">198</text><polyline points="299.75,188 308.13,171.4 316.51,177.5 324.89,188 333.27,170.7 341.65,173.2 350.03,168.3 358.41,145.9 366.79,152 375.17,155.1" fill="none" stroke="#2db34a" stroke-width="1.15" stroke-linejoin="round"/><use href="#mg" x="299.75" y="188"/><use href="#mg" x="308.13" y="171.4"/><use href="#mg" x="316.51" y="177.5"/><use href="#mg" x="324.89" y="188"/><use href="#mg" x="333.27" y="170.7"/><use href="#mg" x="341.65" y="173.2"/><use href="#mg" x="350.03" y="168.3"/><use href="#mg" x="358.41" y="145.9"/><use href="#mg" x="366.79" y="152"/><use href="#mg" x="375.17" y="155.1"/><polyline points="299.75,188 308.13,176.9 316.51,183.4 324.89,183.9 333.27,181.8 341.65,179.9 350.03,173.5 358.41,149.8 366.79,159.4 375.17,156.4" fill="none" stroke="#174f8a" stroke-width="1.15" stroke-linejoin="round"/><use href="#mb" x="299.75" y="188"/><use href="#mb" x="308.13" y="176.9"/><use href="#mb" x="316.51" y="183.4"/><use href="#mb" x="324.89" y="183.9"/><use href="#mb" x="333.27" y="181.8"/><use href="#mb" x="341.65" y="179.9"/><use href="#mb" x="350.03" y="173.5"/><use href="#mb" x="358.41" y="149.8"/><use href="#mb" x="366.79" y="159.4"/><use href="#mb" x="375.17" y="156.4"/><polyline points="299.75,159.4 308.13,155.1 316.51,160.3 324.89,176.7 333.27,157 341.65,145.5 350.03,148.4 358.41,148 366.79,146.8 375.17,149" fill="none" stroke="#c8102e" stroke-width="1.15" stroke-linejoin="round"/><use href="#mr" x="299.75" y="159.4"/><use href="#mr" x="308.13" y="155.1"/><use href="#mr" x="316.51" y="160.3"/><use href="#mr" x="324.89" y="176.7"/><use href="#mr" x="333.27" y="157"/><use href="#mr" x="341.65" y="145.5"/><use href="#mr" x="350.03" y="148.4"/><use href="#mr" x="358.41" y="148"/><use href="#mr" x="366.79" y="146.8"/><use href="#mr" x="375.17" y="149"/><use href="#ar" x="352.2" y="200.1"/><text class="xb" transform="translate(287.9,215.1) scale(0.62,1)" font-size="9.2" textLength="158.06" lengthAdjust="spacing" fill="#2a2a2a">Days post NS7CAR-T cells infusion</text><text class="yb" transform="translate(268.9,157.1) rotate(-90) scale(0.66,1)" text-anchor="middle" font-size="8.8" textLength="75.76" lengthAdjust="spacing" fill="#2a2a2a">Cells/µL of blood</text></g>
<g><text class="t" transform="translate(465.8,123.2) scale(0.93,1)" text-anchor="middle" font-size="9.0" fill="#2a2a2a">Pt.08</text><path d="M422.6,126.5V188H509" fill="none" stroke="#1a1a1a" stroke-width="1.2"/><path d="M419.5,188H422.6M419.5,176.5H422.6M419.5,165H422.6M419.5,153.5H422.6M419.5,142H422.6M419.5,130.5H422.6M427.65,188V191.1M435.27,188V191.1M442.89,188V191.1M450.51,188V191.1M458.13,188V191.1M465.75,188V191.1M473.37,188V191.1M480.99,188V191.1M488.61,188V191.1M496.23,188V191.1M503.85,188V191.1" stroke="#1a1a1a" stroke-width="1"/><text class="c" transform="translate(416.6,190.3) scale(0.92,1)" text-anchor="end" font-size="6.4" fill="#2a2a2a">0.1</text><text class="c" transform="translate(416.6,178.8) scale(0.92,1)" text-anchor="end" font-size="6.4" fill="#2a2a2a">1</text><text class="c" transform="translate(416.6,167.3) scale(0.92,1)" text-anchor="end" font-size="6.4" fill="#2a2a2a">10</text><text class="c" transform="translate(416.6,155.8) scale(0.92,1)" text-anchor="end" font-size="6.4" fill="#2a2a2a">100</text><text class="c" transform="translate(416.6,144.3) scale(0.92,1)" text-anchor="end" font-size="6.4" fill="#2a2a2a">1000</text><text class="c" transform="translate(416.6,132.8) scale(0.92,1)" text-anchor="end" font-size="6.4" fill="#2a2a2a">10000</text><text class="c" transform="translate(427.65,198.8) scale(0.71,1)" text-anchor="middle" font-size="6.8" fill="#2a2a2a">3</text><text class="c" transform="translate(435.27,198.8) scale(0.71,1)" text-anchor="middle" font-size="6.8" fill="#2a2a2a">10</text><text class="c" transform="translate(442.89,198.8) scale(0.71,1)" text-anchor="middle" font-size="6.8" fill="#2a2a2a">14</text><text class="c" transform="translate(450.51,198.8) scale(0.71,1)" text-anchor="middle" font-size="6.8" fill="#2a2a2a">22</text><text class="c" transform="translate(458.13,198.8) scale(0.71,1)" text-anchor="middle" font-size="6.8" fill="#2a2a2a">29</text><text class="c" transform="translate(465.75,198.8) scale(0.71,1)" text-anchor="middle" font-size="6.8" fill="#2a2a2a">45</text><text class="c" transform="translate(473.37,198.8) scale(0.71,1)" text-anchor="middle" font-size="6.8" fill="#2a2a2a">60</text><text class="c" transform="translate(480.99,198.8) scale(0.71,1)" text-anchor="middle" font-size="6.8" fill="#2a2a2a">90</text><text class="c" transform="translate(488.61,198.8) scale(0.71,1)" text-anchor="middle" font-size="6.8" fill="#2a2a2a">120</text><text class="c" transform="translate(496.23,198.8) scale(0.71,1)" text-anchor="middle" font-size="6.8" fill="#2a2a2a">150</text><text class="c" transform="translate(503.85,198.8) scale(0.71,1)" text-anchor="middle" font-size="6.8" fill="#2a2a2a">195</text><polyline points="427.65,183.7 435.27,171 442.89,179.6 450.51,164.8 458.13,159.7 465.75,188 473.37,188 480.99,157.2 488.61,147.1 496.23,153.3 503.85,154.8" fill="none" stroke="#2db34a" stroke-width="1.15" stroke-linejoin="round"/><use href="#mg" x="427.65" y="183.7"/><use href="#mg" x="435.27" y="171"/><use href="#mg" x="442.89" y="179.6"/><use href="#mg" x="450.51" y="164.8"/><use href="#mg" x="458.13" y="159.7"/><use href="#mg" x="465.75" y="188"/><use href="#mg" x="473.37" y="188"/><use href="#mg" x="480.99" y="157.2"/><use href="#mg" x="488.61" y="147.1"/><use href="#mg" x="496.23" y="153.3"/><use href="#mg" x="503.85" y="154.8"/><polyline points="427.65,170.1 435.27,170.5 442.89,179.6 450.51,169.5 458.13,174.8 465.75,188 473.37,174.1 480.99,163.4 488.61,152.5 496.23,154.1 503.85,151.9" fill="none" stroke="#174f8a" stroke-width="1.15" stroke-linejoin="round"/><use href="#mb" x="427.65" y="170.1"/><use href="#mb" x="435.27" y="170.5"/><use href="#mb" x="442.89" y="179.6"/><use href="#mb" x="450.51" y="169.5"/><use href="#mb" x="458.13" y="174.8"/><use href="#mb" x="465.75" y="188"/><use href="#mb" x="473.37" y="174.1"/><use href="#mb" x="480.99" y="163.4"/><use href="#mb" x="488.61" y="152.5"/><use href="#mb" x="496.23" y="154.1"/><use href="#mb" x="503.85" y="151.9"/><polyline points="427.65,155.4 435.27,163.6 442.89,156.4 450.51,149.8 458.13,143.1 465.75,188 473.37,188 480.99,147.4 488.61,136.3 496.23,140 503.85,139.6" fill="none" stroke="#c8102e" stroke-width="1.15" stroke-linejoin="round"/><use href="#mr" x="427.65" y="155.4"/><use href="#mr" x="435.27" y="163.6"/><use href="#mr" x="442.89" y="156.4"/><use href="#mr" x="450.51" y="149.8"/><use href="#mr" x="458.13" y="143.1"/><use href="#mr" x="465.75" y="188"/><use href="#mr" x="473.37" y="188"/><use href="#mr" x="480.99" y="147.4"/><use href="#mr" x="488.61" y="136.3"/><use href="#mr" x="496.23" y="140"/><use href="#mr" x="503.85" y="139.6"/><use href="#ar" x="468.8" y="200.1"/><text class="xb" transform="translate(415.2,215.1) scale(0.62,1)" font-size="9.2" textLength="158.06" lengthAdjust="spacing" fill="#2a2a2a">Days post NS7CAR-T cells infusion</text><text class="yb" transform="translate(397.7,157.1) rotate(-90) scale(0.66,1)" text-anchor="middle" font-size="8.8" textLength="75.76" lengthAdjust="spacing" fill="#2a2a2a">Cells/µL of blood</text></g>
<g><text class="t" transform="translate(81.3,234.9) scale(0.93,1)" text-anchor="middle" font-size="9.0" fill="#2a2a2a">Pt.09</text><path d="M38.3,237.2V298.6H124.3" fill="none" stroke="#1a1a1a" stroke-width="1.2"/><path d="M35.2,298.6H38.3M35.2,287.12H38.3M35.2,275.64H38.3M35.2,264.16H38.3M35.2,252.68H38.3M35.2,241.2H38.3M43.75,298.6V301.7M52.12,298.6V301.7M60.49,298.6V301.7M68.86,298.6V301.7M77.23,298.6V301.7M85.6,298.6V301.7M93.97,298.6V301.7M102.34,298.6V301.7M110.71,298.6V301.7M119.08,298.6V301.7" stroke="#1a1a1a" stroke-width="1"/><text class="c" transform="translate(32.3,300.9) scale(0.92,1)" text-anchor="end" font-size="6.4" fill="#2a2a2a">0.1</text><text class="c" transform="translate(32.3,289.42) scale(0.92,1)" text-anchor="end" font-size="6.4" fill="#2a2a2a">1</text><text class="c" transform="translate(32.3,277.94) scale(0.92,1)" text-anchor="end" font-size="6.4" fill="#2a2a2a">10</text><text class="c" transform="translate(32.3,266.46) scale(0.92,1)" text-anchor="end" font-size="6.4" fill="#2a2a2a">100</text><text class="c" transform="translate(32.3,254.98) scale(0.92,1)" text-anchor="end" font-size="6.4" fill="#2a2a2a">1000</text><text class="c" transform="translate(32.3,243.5) scale(0.92,1)" text-anchor="end" font-size="6.4" fill="#2a2a2a">10000</text><text class="c" transform="translate(43.75,309.6) scale(0.71,1)" text-anchor="middle" font-size="6.8" fill="#2a2a2a">4</text><text class="c" transform="translate(52.12,309.6) scale(0.71,1)" text-anchor="middle" font-size="6.8" fill="#2a2a2a">7</text><text class="c" transform="translate(60.49,309.6) scale(0.71,1)" text-anchor="middle" font-size="6.8" fill="#2a2a2a">11</text><text class="c" transform="translate(68.86,309.6) scale(0.71,1)" text-anchor="middle" font-size="6.8" fill="#2a2a2a">14</text><text class="c" transform="translate(77.23,309.6) scale(0.71,1)" text-anchor="middle" font-size="6.8" fill="#2a2a2a">18</text><text class="c" transform="translate(85.6,309.6) scale(0.71,1)" text-anchor="middle" font-size="6.8" fill="#2a2a2a">28</text><text class="c" transform="translate(93.97,309.6) scale(0.71,1)" text-anchor="middle" font-size="6.8" fill="#2a2a2a">45</text><text class="c" transform="translate(102.34,309.6) scale(0.71,1)" text-anchor="middle" font-size="6.8" fill="#2a2a2a">60</text><text class="c" transform="translate(110.71,309.6) scale(0.71,1)" text-anchor="middle" font-size="6.8" fill="#2a2a2a">90</text><text class="c" transform="translate(119.08,309.6) scale(0.71,1)" text-anchor="middle" font-size="6.8" fill="#2a2a2a">150</text><polyline points="43.75,285 52.12,272.9 60.49,285 68.86,292 77.23,277.2 85.6,271.9 93.97,282.1 102.34,278.8 110.71,258.1 119.08,280.9" fill="none" stroke="#2db34a" stroke-width="1.15" stroke-linejoin="round"/><use href="#mg" x="43.75" y="285"/><use href="#mg" x="52.12" y="272.9"/><use href="#mg" x="60.49" y="285"/><use href="#mg" x="68.86" y="292"/><use href="#mg" x="77.23" y="277.2"/><use href="#mg" x="85.6" y="271.9"/><use href="#mg" x="93.97" y="282.1"/><use href="#mg" x="102.34" y="278.8"/><use href="#mg" x="110.71" y="258.1"/><use href="#mg" x="119.08" y="280.9"/><polyline points="43.75,297.8 52.12,295.4 60.49,287.7 68.86,298.6 77.23,288.5 85.6,298.6 93.97,298.6 102.34,271.7 110.71,264.5 119.08,283.4" fill="none" stroke="#174f8a" stroke-width="1.15" stroke-linejoin="round"/><use href="#mb" x="43.75" y="297.8"/><use href="#mb" x="52.12" y="295.4"/><use href="#mb" x="60.49" y="287.7"/><use href="#mb" x="68.86" y="298.6"/><use href="#mb" x="77.23" y="288.5"/><use href="#mb" x="85.6" y="298.6"/><use href="#mb" x="93.97" y="298.6"/><use href="#mb" x="102.34" y="271.7"/><use href="#mb" x="110.71" y="264.5"/><use href="#mb" x="119.08" y="283.4"/><polyline points="43.75,268.8 52.12,270.8 60.49,277.8 68.86,285.2 77.23,259.1 85.6,259.1 93.97,271.3 102.34,298.6 110.71,268 119.08,267.6" fill="none" stroke="#c8102e" stroke-width="1.15" stroke-linejoin="round"/><use href="#mr" x="43.75" y="268.8"/><use href="#mr" x="52.12" y="270.8"/><use href="#mr" x="60.49" y="277.8"/><use href="#mr" x="68.86" y="285.2"/><use href="#mr" x="77.23" y="259.1"/><use href="#mr" x="85.6" y="259.1"/><use href="#mr" x="93.97" y="271.3"/><use href="#mr" x="102.34" y="298.6"/><use href="#mr" x="110.71" y="268"/><use href="#mr" x="119.08" y="267.6"/><use href="#ar" x="97.9" y="310"/><text class="xb" transform="translate(32.1,325.5) scale(0.62,1)" font-size="9.2" textLength="158.06" lengthAdjust="spacing" fill="#2a2a2a">Days post NS7CAR-T cells infusion</text><text class="yb" transform="translate(13.7,267.7) rotate(-90) scale(0.66,1)" text-anchor="middle" font-size="8.8" textLength="75.76" lengthAdjust="spacing" fill="#2a2a2a">Cells/µL of blood</text></g>
<g><text class="t" transform="translate(210.15,234.9) scale(0.93,1)" text-anchor="middle" font-size="9.0" fill="#2a2a2a">Pt.10</text><path d="M167.3,237.2V298.6H253" fill="none" stroke="#1a1a1a" stroke-width="1.2"/><path d="M164.2,298.6H167.3M164.2,287.12H167.3M164.2,275.64H167.3M164.2,264.16H167.3M164.2,252.68H167.3M164.2,241.2H167.3M172.75,298.6V301.7M181.09,298.6V301.7M189.43,298.6V301.7M197.77,298.6V301.7M206.11,298.6V301.7M214.45,298.6V301.7M222.79,298.6V301.7M231.13,298.6V301.7M239.47,298.6V301.7M247.81,298.6V301.7" stroke="#1a1a1a" stroke-width="1"/><text class="c" transform="translate(161.3,300.9) scale(0.92,1)" text-anchor="end" font-size="6.4" fill="#2a2a2a">0.1</text><text class="c" transform="translate(161.3,289.42) scale(0.92,1)" text-anchor="end" font-size="6.4" fill="#2a2a2a">1</text><text class="c" transform="translate(161.3,277.94) scale(0.92,1)" text-anchor="end" font-size="6.4" fill="#2a2a2a">10</text><text class="c" transform="translate(161.3,266.46) scale(0.92,1)" text-anchor="end" font-size="6.4" fill="#2a2a2a">100</text><text class="c" transform="translate(161.3,254.98) scale(0.92,1)" text-anchor="end" font-size="6.4" fill="#2a2a2a">1000</text><text class="c" transform="translate(161.3,243.5) scale(0.92,1)" text-anchor="end" font-size="6.4" fill="#2a2a2a">10000</text><text class="c" transform="translate(172.75,309.6) scale(0.71,1)" text-anchor="middle" font-size="6.8" fill="#2a2a2a">-1</text><text class="c" transform="translate(181.09,309.6) scale(0.71,1)" text-anchor="middle" font-size="6.8" fill="#2a2a2a">5</text><text class="c" transform="translate(189.43,309.6) scale(0.71,1)" text-anchor="middle" font-size="6.8" fill="#2a2a2a">8</text><text class="c" transform="translate(197.77,309.6) scale(0.71,1)" text-anchor="middle" font-size="6.8" fill="#2a2a2a">10</text><text class="c" transform="translate(206.11,309.6) scale(0.71,1)" text-anchor="middle" font-size="6.8" fill="#2a2a2a">15</text><text class="c" transform="translate(214.45,309.6) scale(0.71,1)" text-anchor="middle" font-size="6.8" fill="#2a2a2a">20</text><text class="c" transform="translate(222.79,309.6) scale(0.71,1)" text-anchor="middle" font-size="6.8" fill="#2a2a2a">29</text><text class="c" transform="translate(231.13,309.6) scale(0.71,1)" text-anchor="middle" font-size="6.8" fill="#2a2a2a">43</text><text class="c" transform="translate(239.47,309.6) scale(0.71,1)" text-anchor="middle" font-size="6.8" fill="#2a2a2a">48</text><text class="c" transform="translate(247.81,309.6) scale(0.71,1)" text-anchor="middle" font-size="6.8" fill="#2a2a2a">60</text><polyline points="172.75,298.6 181.09,298.6 189.43,298.6 197.77,298.6 206.11,298.6 214.45,285.3 222.79,269.5 231.13,275.6 239.47,282.1 247.81,296.9" fill="none" stroke="#2db34a" stroke-width="1.15" stroke-linejoin="round"/><use href="#mg" x="172.75" y="298.6"/><use href="#mg" x="181.09" y="298.6"/><use href="#mg" x="189.43" y="298.6"/><use href="#mg" x="197.77" y="298.6"/><use href="#mg" x="206.11" y="298.6"/><use href="#mg" x="214.45" y="285.3"/><use href="#mg" x="222.79" y="269.5"/><use href="#mg" x="231.13" y="275.6"/><use href="#mg" x="239.47" y="282.1"/><use href="#mg" x="247.81" y="296.9"/><polyline points="172.75,298.6 181.09,298.6 189.43,298.6 197.77,292.8 206.11,298.6 214.45,288.7 222.79,298.6 231.13,298.6 239.47,287.7 247.81,294.4" fill="none" stroke="#174f8a" stroke-width="1.15" stroke-linejoin="round"/><use href="#mb" x="172.75" y="298.6"/><use href="#mb" x="181.09" y="298.6"/><use href="#mb" x="189.43" y="298.6"/><use href="#mb" x="197.77" y="292.8"/><use href="#mb" x="206.11" y="298.6"/><use href="#mb" x="214.45" y="288.7"/><use href="#mb" x="222.79" y="298.6"/><use href="#mb" x="231.13" y="298.6"/><use href="#mb" x="239.47" y="287.7"/><use href="#mb" x="247.81" y="294.4"/><polyline points="172.75,278.8 181.09,276.8 189.43,298.6 197.77,269.5 206.11,268 214.45,267.7 222.79,255.3 231.13,260.8 239.47,265.2 247.81,274.4" fill="none" stroke="#c8102e" stroke-width="1.15" stroke-linejoin="round"/><use href="#mr" x="172.75" y="278.8"/><use href="#mr" x="181.09" y="276.8"/><use href="#mr" x="189.43" y="298.6"/><use href="#mr" x="197.77" y="269.5"/><use href="#mr" x="206.11" y="268"/><use href="#mr" x="214.45" y="267.7"/><use href="#mr" x="222.79" y="255.3"/><use href="#mr" x="231.13" y="260.8"/><use href="#mr" x="239.47" y="265.2"/><use href="#mr" x="247.81" y="274.4"/><text class="xb" transform="translate(161.1,325.5) scale(0.62,1)" font-size="9.2" textLength="158.06" lengthAdjust="spacing" fill="#2a2a2a">Days post NS7CAR-T cells infusion</text><text class="yb" transform="translate(142.6,267.7) rotate(-90) scale(0.66,1)" text-anchor="middle" font-size="8.8" textLength="75.76" lengthAdjust="spacing" fill="#2a2a2a">Cells/µL of blood</text></g>
<g><text class="t" transform="translate(337.38,234.9) scale(0.93,1)" text-anchor="middle" font-size="9.0" fill="#2a2a2a">Pt.11</text><path d="M294.25,237.2V298.6H380.5" fill="none" stroke="#1a1a1a" stroke-width="1.2"/><path d="M291.15,298.6H294.25M291.15,287.12H294.25M291.15,275.64H294.25M291.15,264.16H294.25M291.15,252.68H294.25M291.15,241.2H294.25M298.55,298.6V301.7M305.54,298.6V301.7M312.53,298.6V301.7M319.52,298.6V301.7M326.51,298.6V301.7M333.5,298.6V301.7M340.49,298.6V301.7M347.48,298.6V301.7M354.47,298.6V301.7M361.46,298.6V301.7M368.45,298.6V301.7M375.44,298.6V301.7" stroke="#1a1a1a" stroke-width="1"/><text class="c" transform="translate(288.25,300.9) scale(0.92,1)" text-anchor="end" font-size="6.4" fill="#2a2a2a">0.1</text><text class="c" transform="translate(288.25,289.42) scale(0.92,1)" text-anchor="end" font-size="6.4" fill="#2a2a2a">1</text><text class="c" transform="translate(288.25,277.94) scale(0.92,1)" text-anchor="end" font-size="6.4" fill="#2a2a2a">10</text><text class="c" transform="translate(288.25,266.46) scale(0.92,1)" text-anchor="end" font-size="6.4" fill="#2a2a2a">100</text><text class="c" transform="translate(288.25,254.98) scale(0.92,1)" text-anchor="end" font-size="6.4" fill="#2a2a2a">1000</text><text class="c" transform="translate(288.25,243.5) scale(0.92,1)" text-anchor="end" font-size="6.4" fill="#2a2a2a">10000</text><text class="c" transform="translate(298.55,309.6) scale(0.71,1)" text-anchor="middle" font-size="6.8" fill="#2a2a2a">-1</text><text class="c" transform="translate(305.54,309.6) scale(0.71,1)" text-anchor="middle" font-size="6.8" fill="#2a2a2a">4</text><text class="c" transform="translate(312.53,309.6) scale(0.71,1)" text-anchor="middle" font-size="6.8" fill="#2a2a2a">7</text><text class="c" transform="translate(319.52,309.6) scale(0.71,1)" text-anchor="middle" font-size="6.8" fill="#2a2a2a">11</text><text class="c" transform="translate(326.51,309.6) scale(0.71,1)" text-anchor="middle" font-size="6.8" fill="#2a2a2a">15</text><text class="c" transform="translate(333.5,309.6) scale(0.71,1)" text-anchor="middle" font-size="6.8" fill="#2a2a2a">20</text><text class="c" transform="translate(340.49,309.6) scale(0.71,1)" text-anchor="middle" font-size="6.8" fill="#2a2a2a">25</text><text class="c" transform="translate(347.48,309.6) scale(0.71,1)" text-anchor="middle" font-size="6.8" fill="#2a2a2a">29</text><text class="c" transform="translate(354.47,309.6) scale(0.71,1)" text-anchor="middle" font-size="6.8" fill="#2a2a2a">46</text><text class="c" transform="translate(361.46,309.6) scale(0.71,1)" text-anchor="middle" font-size="6.8" fill="#2a2a2a">55</text><text class="c" transform="translate(368.45,309.6) scale(0.71,1)" text-anchor="middle" font-size="6.8" fill="#2a2a2a">90</text><text class="c" transform="translate(375.44,309.6) scale(0.71,1)" text-anchor="middle" font-size="6.8" fill="#2a2a2a">120</text><polyline points="298.55,298.6 305.54,298.6 312.53,298.6 319.52,298.6 326.51,298.6 333.5,295.7 340.49,285.5 347.48,275.6 354.47,282.5 361.46,278.2 368.45,265.3 375.44,279.7" fill="none" stroke="#2db34a" stroke-width="1.15" stroke-linejoin="round"/><use href="#mg" x="298.55" y="298.6"/><use href="#mg" x="305.54" y="298.6"/><use href="#mg" x="312.53" y="298.6"/><use href="#mg" x="319.52" y="298.6"/><use href="#mg" x="326.51" y="298.6"/><use href="#mg" x="333.5" y="295.7"/><use href="#mg" x="340.49" y="285.5"/><use href="#mg" x="347.48" y="275.6"/><use href="#mg" x="354.47" y="282.5"/><use href="#mg" x="361.46" y="278.2"/><use href="#mg" x="368.45" y="265.3"/><use href="#mg" x="375.44" y="279.7"/><polyline points="298.55,298.6 305.54,295.4 312.53,286.4 319.52,289.1 326.51,288.5 333.5,287.4 340.49,282.1 347.48,282.7 354.47,277.8 361.46,272.7 368.45,276.6 375.44,280.7" fill="none" stroke="#174f8a" stroke-width="1.15" stroke-linejoin="round"/><use href="#mb" x="298.55" y="298.6"/><use href="#mb" x="305.54" y="295.4"/><use href="#mb" x="312.53" y="286.4"/><use href="#mb" x="319.52" y="289.1"/><use href="#mb" x="326.51" y="288.5"/><use href="#mb" x="333.5" y="287.4"/><use href="#mb" x="340.49" y="282.1"/><use href="#mb" x="347.48" y="282.7"/><use href="#mb" x="354.47" y="277.8"/><use href="#mb" x="361.46" y="272.7"/><use href="#mb" x="368.45" y="276.6"/><use href="#mb" x="375.44" y="280.7"/><polyline points="298.55,280.7 305.54,275 312.53,268.8 319.52,276.2 326.51,266.8 333.5,268.8 340.49,261.8 347.48,254.4 354.47,252.6 361.46,252.6 368.45,274.4 375.44,264" fill="none" stroke="#c8102e" stroke-width="1.15" stroke-linejoin="round"/><use href="#mr" x="298.55" y="280.7"/><use href="#mr" x="305.54" y="275"/><use href="#mr" x="312.53" y="268.8"/><use href="#mr" x="319.52" y="276.2"/><use href="#mr" x="326.51" y="266.8"/><use href="#mr" x="333.5" y="268.8"/><use href="#mr" x="340.49" y="261.8"/><use href="#mr" x="347.48" y="254.4"/><use href="#mr" x="354.47" y="252.6"/><use href="#mr" x="361.46" y="252.6"/><use href="#mr" x="368.45" y="274.4"/><use href="#mr" x="375.44" y="264"/><use href="#ar" x="366.2" y="310"/><text class="xb" transform="translate(288.2,325.5) scale(0.62,1)" font-size="9.2" textLength="158.06" lengthAdjust="spacing" fill="#2a2a2a">Days post NS7CAR-T cells infusion</text><text class="yb" transform="translate(268.9,267.7) rotate(-90) scale(0.66,1)" text-anchor="middle" font-size="8.8" textLength="75.76" lengthAdjust="spacing" fill="#2a2a2a">Cells/µL of blood</text></g>
<g><text class="t" transform="translate(465.6,234.9) scale(0.93,1)" text-anchor="middle" font-size="9.0" fill="#2a2a2a">Pt.12</text><path d="M422.6,237.2V298.6H508.6" fill="none" stroke="#1a1a1a" stroke-width="1.2"/><path d="M419.5,298.6H422.6M419.5,287.12H422.6M419.5,275.64H422.6M419.5,264.16H422.6M419.5,252.68H422.6M419.5,241.2H422.6M425.75,298.6V301.7M435.11,298.6V301.7M444.47,298.6V301.7M453.83,298.6V301.7M463.19,298.6V301.7M472.55,298.6V301.7M481.91,298.6V301.7M491.27,298.6V301.7M500.63,298.6V301.7" stroke="#1a1a1a" stroke-width="1"/><text class="c" transform="translate(416.6,300.9) scale(0.92,1)" text-anchor="end" font-size="6.4" fill="#2a2a2a">0.1</text><text class="c" transform="translate(416.6,289.42) scale(0.92,1)" text-anchor="end" font-size="6.4" fill="#2a2a2a">1</text><text class="c" transform="translate(416.6,277.94) scale(0.92,1)" text-anchor="end" font-size="6.4" fill="#2a2a2a">10</text><text class="c" transform="translate(416.6,266.46) scale(0.92,1)" text-anchor="end" font-size="6.4" fill="#2a2a2a">100</text><text class="c" transform="translate(416.6,254.98) scale(0.92,1)" text-anchor="end" font-size="6.4" fill="#2a2a2a">1000</text><text class="c" transform="translate(416.6,243.5) scale(0.92,1)" text-anchor="end" font-size="6.4" fill="#2a2a2a">10000</text><text class="c" transform="translate(425.75,309.6) scale(0.71,1)" text-anchor="middle" font-size="6.8" fill="#2a2a2a">0</text><text class="c" transform="translate(435.11,309.6) scale(0.71,1)" text-anchor="middle" font-size="6.8" fill="#2a2a2a">8</text><text class="c" transform="translate(444.47,309.6) scale(0.71,1)" text-anchor="middle" font-size="6.8" fill="#2a2a2a">14</text><text class="c" transform="translate(453.83,309.6) scale(0.71,1)" text-anchor="middle" font-size="6.8" fill="#2a2a2a">18</text><text class="c" transform="translate(463.19,309.6) scale(0.71,1)" text-anchor="middle" font-size="6.8" fill="#2a2a2a">23</text><text class="c" transform="translate(472.55,309.6) scale(0.71,1)" text-anchor="middle" font-size="6.8" fill="#2a2a2a">28</text><text class="c" transform="translate(481.91,309.6) scale(0.71,1)" text-anchor="middle" font-size="6.8" fill="#2a2a2a">43</text><text class="c" transform="translate(491.27,309.6) scale(0.71,1)" text-anchor="middle" font-size="6.8" fill="#2a2a2a">59</text><text class="c" transform="translate(500.63,309.6) scale(0.71,1)" text-anchor="middle" font-size="6.8" fill="#2a2a2a">120</text><polyline points="425.75,291.4 430.43,286.4 435.11,274.8 439.79,265.5 444.47,254.4 449.15,258.1 453.83,264.9 458.51,298.6 463.19,298.6 467.87,295.7 472.55,294.1 477.23,298.6 481.91,279.1 486.59,278.8 491.27,272.9 495.95,298.6 500.63,277.2 505.31,271.4" fill="none" stroke="#2db34a" stroke-width="1.15" stroke-linejoin="round"/><use href="#mg" x="425.75" y="291.4"/><use href="#mg" x="430.43" y="286.4"/><use href="#mg" x="435.11" y="274.8"/><use href="#mg" x="439.79" y="265.5"/><use href="#mg" x="444.47" y="254.4"/><use href="#mg" x="449.15" y="258.1"/><use href="#mg" x="453.83" y="264.9"/><use href="#mg" x="458.51" y="298.6"/><use href="#mg" x="463.19" y="298.6"/><use href="#mg" x="467.87" y="295.7"/><use href="#mg" x="472.55" y="294.1"/><use href="#mg" x="477.23" y="298.6"/><use href="#mg" x="481.91" y="279.1"/><use href="#mg" x="486.59" y="278.8"/><use href="#mg" x="491.27" y="272.9"/><use href="#mg" x="495.95" y="298.6"/><use href="#mg" x="500.63" y="277.2"/><use href="#mg" x="505.31" y="271.4"/><polyline points="425.75,286.4 430.43,291.7 435.11,282.1 439.79,272.3 444.47,259.1 449.15,258.1 453.83,262.2 458.51,298.6 463.19,298.6 467.87,286.2 472.55,287.4 477.23,296.5 481.91,285.8 486.59,283.4 491.27,282.7 495.95,298.6 500.63,274.8 505.31,277.5" fill="none" stroke="#174f8a" stroke-width="1.15" stroke-linejoin="round"/><use href="#mb" x="425.75" y="286.4"/><use href="#mb" x="430.43" y="291.7"/><use href="#mb" x="435.11" y="282.1"/><use href="#mb" x="439.79" y="272.3"/><use href="#mb" x="444.47" y="259.1"/><use href="#mb" x="449.15" y="258.1"/><use href="#mb" x="453.83" y="262.2"/><use href="#mb" x="458.51" y="298.6"/><use href="#mb" x="463.19" y="298.6"/><use href="#mb" x="467.87" y="286.2"/><use href="#mb" x="472.55" y="287.4"/><use href="#mb" x="477.23" y="296.5"/><use href="#mb" x="481.91" y="285.8"/><use href="#mb" x="486.59" y="283.4"/><use href="#mb" x="491.27" y="282.7"/><use href="#mb" x="495.95" y="298.6"/><use href="#mb" x="500.63" y="274.8"/><use href="#mb" x="505.31" y="277.5"/><polyline points="425.75,270.7 430.43,272.3 435.11,266.8 439.79,267 444.47,265.5 449.15,268.4 453.83,271.4 458.51,284.2 463.19,292.6 467.87,271.9 472.55,273.5 477.23,276.2 481.91,260 486.59,260 491.27,259.1 495.95,298.6 500.63,267.4 505.31,256.7" fill="none" stroke="#c8102e" stroke-width="1.15" stroke-linejoin="round"/><use href="#mr" x="425.75" y="270.7"/><use href="#mr" x="430.43" y="272.3"/><use href="#mr" x="435.11" y="266.8"/><use href="#mr" x="439.79" y="267"/><use href="#mr" x="444.47" y="265.5"/><use href="#mr" x="449.15" y="268.4"/><use href="#mr" x="453.83" y="271.4"/><use href="#mr" x="458.51" y="284.2"/><use href="#mr" x="463.19" y="292.6"/><use href="#mr" x="467.87" y="271.9"/><use href="#mr" x="472.55" y="273.5"/><use href="#mr" x="477.23" y="276.2"/><use href="#mr" x="481.91" y="260"/><use href="#mr" x="486.59" y="260"/><use href="#mr" x="491.27" y="259.1"/><use href="#mr" x="495.95" y="298.6"/><use href="#mr" x="500.63" y="267.4"/><use href="#mr" x="505.31" y="256.7"/><use href="#ar" x="496.2" y="310"/><text class="xb" transform="translate(415,325.5) scale(0.62,1)" font-size="9.2" textLength="158.06" lengthAdjust="spacing" fill="#2a2a2a">Days post NS7CAR-T cells infusion</text><text class="yb" transform="translate(397.7,267.7) rotate(-90) scale(0.66,1)" text-anchor="middle" font-size="8.8" textLength="75.76" lengthAdjust="spacing" fill="#2a2a2a">Cells/µL of blood</text></g>
<g><text class="t" transform="translate(81.3,343.9) scale(0.93,1)" text-anchor="middle" font-size="9.0" fill="#2a2a2a">Pt.13</text><path d="M38.3,347.4V408.8H124.3" fill="none" stroke="#1a1a1a" stroke-width="1.2"/><path d="M35.2,408.8H38.3M35.2,397.32H38.3M35.2,385.84H38.3M35.2,374.36H38.3M35.2,362.88H38.3M35.2,351.4H38.3M42.95,408.8V411.9M49.97,408.8V411.9M56.99,408.8V411.9M64.01,408.8V411.9M71.03,408.8V411.9M78.05,408.8V411.9M85.07,408.8V411.9M92.09,408.8V411.9M99.11,408.8V411.9M106.13,408.8V411.9M113.15,408.8V411.9M120.17,408.8V411.9" stroke="#1a1a1a" stroke-width="1"/><text class="c" transform="translate(32.3,411.1) scale(0.92,1)" text-anchor="end" font-size="6.4" fill="#2a2a2a">0.1</text><text class="c" transform="translate(32.3,399.62) scale(0.92,1)" text-anchor="end" font-size="6.4" fill="#2a2a2a">1</text><text class="c" transform="translate(32.3,388.14) scale(0.92,1)" text-anchor="end" font-size="6.4" fill="#2a2a2a">10</text><text class="c" transform="translate(32.3,376.66) scale(0.92,1)" text-anchor="end" font-size="6.4" fill="#2a2a2a">100</text><text class="c" transform="translate(32.3,365.18) scale(0.92,1)" text-anchor="end" font-size="6.4" fill="#2a2a2a">1000</text><text class="c" transform="translate(32.3,353.7) scale(0.92,1)" text-anchor="end" font-size="6.4" fill="#2a2a2a">10000</text><text class="c" transform="translate(42.95,419.8) scale(0.71,1)" text-anchor="middle" font-size="6.8" fill="#2a2a2a">-1</text><text class="c" transform="translate(49.97,419.8) scale(0.71,1)" text-anchor="middle" font-size="6.8" fill="#2a2a2a">4</text><text class="c" transform="translate(56.99,419.8) scale(0.71,1)" text-anchor="middle" font-size="6.8" fill="#2a2a2a">7</text><text class="c" transform="translate(64.01,419.8) scale(0.71,1)" text-anchor="middle" font-size="6.8" fill="#2a2a2a">11</text><text class="c" transform="translate(71.03,419.8) scale(0.71,1)" text-anchor="middle" font-size="6.8" fill="#2a2a2a">15</text><text class="c" transform="translate(78.05,419.8) scale(0.71,1)" text-anchor="middle" font-size="6.8" fill="#2a2a2a">22</text><text class="c" transform="translate(85.07,419.8) scale(0.71,1)" text-anchor="middle" font-size="6.8" fill="#2a2a2a">29</text><text class="c" transform="translate(92.09,419.8) scale(0.71,1)" text-anchor="middle" font-size="6.8" fill="#2a2a2a">34</text><text class="c" transform="translate(99.11,419.8) scale(0.71,1)" text-anchor="middle" font-size="6.8" fill="#2a2a2a">44</text><text class="c" transform="translate(106.13,419.8) scale(0.71,1)" text-anchor="middle" font-size="6.8" fill="#2a2a2a">60</text><text class="c" transform="translate(113.15,419.8) scale(0.71,1)" text-anchor="middle" font-size="6.8" fill="#2a2a2a">90</text><text class="c" transform="translate(120.17,419.8) scale(0.71,1)" text-anchor="middle" font-size="6.8" fill="#2a2a2a">133</text><polyline points="42.95,406.9 49.97,405.1 56.99,402 64.01,399.9 71.03,403.2 78.05,403.8 85.07,397.1 92.09,369.4 99.11,408.8 106.13,408.8 113.15,390.9 120.17,380.2" fill="none" stroke="#2db34a" stroke-width="1.15" stroke-linejoin="round"/><use href="#mg" x="42.95" y="406.9"/><use href="#mg" x="49.97" y="405.1"/><use href="#mg" x="56.99" y="402"/><use href="#mg" x="64.01" y="399.9"/><use href="#mg" x="71.03" y="403.2"/><use href="#mg" x="78.05" y="403.8"/><use href="#mg" x="85.07" y="397.1"/><use href="#mg" x="92.09" y="369.4"/><use href="#mg" x="99.11" y="408.8"/><use href="#mg" x="106.13" y="408.8"/><use href="#mg" x="113.15" y="390.9"/><use href="#mg" x="120.17" y="380.2"/><polyline points="42.95,408.8 49.97,408.8 56.99,408.8 64.01,408.8 71.03,406.5 78.05,400.7 85.07,408.8 92.09,371.8 99.11,408.8 106.13,401.4 113.15,399.5 120.17,393.4" fill="none" stroke="#174f8a" stroke-width="1.15" stroke-linejoin="round"/><use href="#mb" x="42.95" y="408.8"/><use href="#mb" x="49.97" y="408.8"/><use href="#mb" x="56.99" y="408.8"/><use href="#mb" x="64.01" y="408.8"/><use href="#mb" x="71.03" y="406.5"/><use href="#mb" x="78.05" y="400.7"/><use href="#mb" x="85.07" y="408.8"/><use href="#mb" x="92.09" y="371.8"/><use href="#mb" x="99.11" y="408.8"/><use href="#mb" x="106.13" y="401.4"/><use href="#mb" x="113.15" y="399.5"/><use href="#mb" x="120.17" y="393.4"/><polyline points="42.95,389.1 49.97,387.6 56.99,389.1 64.01,386.2 71.03,384.1 78.05,384.1 85.07,370.4 92.09,375.5 99.11,391.9 106.13,406.9 113.15,372.4 120.17,367.3" fill="none" stroke="#c8102e" stroke-width="1.15" stroke-linejoin="round"/><use href="#mr" x="42.95" y="389.1"/><use href="#mr" x="49.97" y="387.6"/><use href="#mr" x="56.99" y="389.1"/><use href="#mr" x="64.01" y="386.2"/><use href="#mr" x="71.03" y="384.1"/><use href="#mr" x="78.05" y="384.1"/><use href="#mr" x="85.07" y="370.4"/><use href="#mr" x="92.09" y="375.5"/><use href="#mr" x="99.11" y="391.9"/><use href="#mr" x="106.13" y="406.9"/><use href="#mr" x="113.15" y="372.4"/><use href="#mr" x="120.17" y="367.3"/><use href="#ar" x="102.7" y="420.2"/><text class="xb" transform="translate(32.1,435.5) scale(0.62,1)" font-size="9.2" textLength="158.06" lengthAdjust="spacing" fill="#2a2a2a">Days post NS7CAR-T cells infusion</text><text class="yb" transform="translate(13.7,377.9) rotate(-90) scale(0.66,1)" text-anchor="middle" font-size="8.8" textLength="75.76" lengthAdjust="spacing" fill="#2a2a2a">Cells/µL of blood</text></g>
<g><text class="t" transform="translate(210,343.9) scale(0.93,1)" text-anchor="middle" font-size="9.0" fill="#2a2a2a">Pt.14</text><path d="M167.3,347.4V408.8H252.7" fill="none" stroke="#1a1a1a" stroke-width="1.2"/><path d="M164.2,408.8H167.3M164.2,397.32H167.3M164.2,385.84H167.3M164.2,374.36H167.3M164.2,362.88H167.3M164.2,351.4H167.3M175.95,408.8V411.9M189.61,408.8V411.9M203.27,408.8V411.9M216.93,408.8V411.9M230.59,408.8V411.9M244.25,408.8V411.9" stroke="#1a1a1a" stroke-width="1"/><text class="c" transform="translate(161.3,411.1) scale(0.92,1)" text-anchor="end" font-size="6.4" fill="#2a2a2a">0.1</text><text class="c" transform="translate(161.3,399.62) scale(0.92,1)" text-anchor="end" font-size="6.4" fill="#2a2a2a">1</text><text class="c" transform="translate(161.3,388.14) scale(0.92,1)" text-anchor="end" font-size="6.4" fill="#2a2a2a">10</text><text class="c" transform="translate(161.3,376.66) scale(0.92,1)" text-anchor="end" font-size="6.4" fill="#2a2a2a">100</text><text class="c" transform="translate(161.3,365.18) scale(0.92,1)" text-anchor="end" font-size="6.4" fill="#2a2a2a">1000</text><text class="c" transform="translate(161.3,353.7) scale(0.92,1)" text-anchor="end" font-size="6.4" fill="#2a2a2a">10000</text><text class="c" transform="translate(175.95,419.8) scale(0.71,1)" text-anchor="middle" font-size="6.8" fill="#2a2a2a">0</text><text class="c" transform="translate(189.61,419.8) scale(0.71,1)" text-anchor="middle" font-size="6.8" fill="#2a2a2a">4</text><text class="c" transform="translate(203.27,419.8) scale(0.71,1)" text-anchor="middle" font-size="6.8" fill="#2a2a2a">7</text><text class="c" transform="translate(216.93,419.8) scale(0.71,1)" text-anchor="middle" font-size="6.8" fill="#2a2a2a">13</text><text class="c" transform="translate(230.59,419.8) scale(0.71,1)" text-anchor="middle" font-size="6.8" fill="#2a2a2a">20</text><text class="c" transform="translate(244.25,419.8) scale(0.71,1)" text-anchor="middle" font-size="6.8" fill="#2a2a2a">42</text><polyline points="175.95,405.3 189.61,385.4 203.27,377.7 216.93,402.8 230.59,397.1 244.25,384.8" fill="none" stroke="#2db34a" stroke-width="1.15" stroke-linejoin="round"/><use href="#mg" x="175.95" y="405.3"/><use href="#mg" x="189.61" y="385.4"/><use href="#mg" x="203.27" y="377.7"/><use href="#mg" x="216.93" y="402.8"/><use href="#mg" x="230.59" y="397.1"/><use href="#mg" x="244.25" y="384.8"/><polyline points="175.95,408.8 189.61,388.4 203.27,381.7 216.93,400.7 230.59,404.2 244.25,386.8" fill="none" stroke="#174f8a" stroke-width="1.15" stroke-linejoin="round"/><use href="#mb" x="175.95" y="408.8"/><use href="#mb" x="189.61" y="388.4"/><use href="#mb" x="203.27" y="381.7"/><use href="#mb" x="216.93" y="400.7"/><use href="#mb" x="230.59" y="404.2"/><use href="#mb" x="244.25" y="386.8"/><polyline points="175.95,386.8 189.61,377 203.27,372.4 216.93,370.6 230.59,377.6 244.25,361.7" fill="none" stroke="#c8102e" stroke-width="1.15" stroke-linejoin="round"/><use href="#mr" x="175.95" y="386.8"/><use href="#mr" x="189.61" y="377"/><use href="#mr" x="203.27" y="372.4"/><use href="#mr" x="216.93" y="370.6"/><use href="#mr" x="230.59" y="377.6"/><use href="#mr" x="244.25" y="361.7"/><text class="xb" transform="translate(160.5,435.5) scale(0.62,1)" font-size="9.2" textLength="158.06" lengthAdjust="spacing" fill="#2a2a2a">Days post NS7CAR-T cells infusion</text><text class="yb" transform="translate(142.6,377.9) rotate(-90) scale(0.66,1)" text-anchor="middle" font-size="8.8" textLength="75.76" lengthAdjust="spacing" fill="#2a2a2a">Cells/µL of blood</text></g>
<g><text class="t" transform="translate(336.62,343.9) scale(0.93,1)" text-anchor="middle" font-size="9.0" fill="#2a2a2a">Pt.15</text><path d="M294.25,347.4V408.8H379" fill="none" stroke="#1a1a1a" stroke-width="1.2"/><path d="M291.15,408.8H294.25M291.15,397.32H294.25M291.15,385.84H294.25M291.15,374.36H294.25M291.15,362.88H294.25M291.15,351.4H294.25M300.35,408.8V411.9M309.59,408.8V411.9M318.83,408.8V411.9M328.07,408.8V411.9M337.31,408.8V411.9M346.55,408.8V411.9M355.79,408.8V411.9M365.03,408.8V411.9M374.27,408.8V411.9" stroke="#1a1a1a" stroke-width="1"/><text class="c" transform="translate(288.25,411.1) scale(0.92,1)" text-anchor="end" font-size="6.4" fill="#2a2a2a">0.1</text><text class="c" transform="translate(288.25,399.62) scale(0.92,1)" text-anchor="end" font-size="6.4" fill="#2a2a2a">1</text><text class="c" transform="translate(288.25,388.14) scale(0.92,1)" text-anchor="end" font-size="6.4" fill="#2a2a2a">10</text><text class="c" transform="translate(288.25,376.66) scale(0.92,1)" text-anchor="end" font-size="6.4" fill="#2a2a2a">100</text><text class="c" transform="translate(288.25,365.18) scale(0.92,1)" text-anchor="end" font-size="6.4" fill="#2a2a2a">1000</text><text class="c" transform="translate(288.25,353.7) scale(0.92,1)" text-anchor="end" font-size="6.4" fill="#2a2a2a">10000</text><text class="c" transform="translate(300.35,419.8) scale(0.71,1)" text-anchor="middle" font-size="6.8" fill="#2a2a2a">0</text><text class="c" transform="translate(309.59,419.8) scale(0.71,1)" text-anchor="middle" font-size="6.8" fill="#2a2a2a">3</text><text class="c" transform="translate(318.83,419.8) scale(0.71,1)" text-anchor="middle" font-size="6.8" fill="#2a2a2a">7</text><text class="c" transform="translate(328.07,419.8) scale(0.71,1)" text-anchor="middle" font-size="6.8" fill="#2a2a2a">14</text><text class="c" transform="translate(337.31,419.8) scale(0.71,1)" text-anchor="middle" font-size="6.8" fill="#2a2a2a">22</text><text class="c" transform="translate(346.55,419.8) scale(0.71,1)" text-anchor="middle" font-size="6.8" fill="#2a2a2a">28</text><text class="c" transform="translate(355.79,419.8) scale(0.71,1)" text-anchor="middle" font-size="6.8" fill="#2a2a2a">60</text><text class="c" transform="translate(365.03,419.8) scale(0.71,1)" text-anchor="middle" font-size="6.8" fill="#2a2a2a">90</text><text class="c" transform="translate(374.27,419.8) scale(0.71,1)" text-anchor="middle" font-size="6.8" fill="#2a2a2a">120</text><polyline points="300.35,408.8 309.59,408.8 318.83,408.8 328.07,391.5 337.31,395.2 346.55,385.6 355.79,389.7 365.03,405.7 374.27,408.8" fill="none" stroke="#2db34a" stroke-width="1.15" stroke-linejoin="round"/><use href="#mg" x="300.35" y="408.8"/><use href="#mg" x="309.59" y="408.8"/><use href="#mg" x="318.83" y="408.8"/><use href="#mg" x="328.07" y="391.5"/><use href="#mg" x="337.31" y="395.2"/><use href="#mg" x="346.55" y="385.6"/><use href="#mg" x="355.79" y="389.7"/><use href="#mg" x="365.03" y="405.7"/><use href="#mg" x="374.27" y="408.8"/><polyline points="300.35,408.8 309.59,408.8 318.83,408.8 328.07,408.8 337.31,408.8 346.55,408.8 355.79,398 365.03,408.8 374.27,408.8" fill="none" stroke="#174f8a" stroke-width="1.15" stroke-linejoin="round"/><use href="#mb" x="300.35" y="408.8"/><use href="#mb" x="309.59" y="408.8"/><use href="#mb" x="318.83" y="408.8"/><use href="#mb" x="328.07" y="408.8"/><use href="#mb" x="337.31" y="408.8"/><use href="#mb" x="346.55" y="408.8"/><use href="#mb" x="355.79" y="398"/><use href="#mb" x="365.03" y="408.8"/><use href="#mb" x="374.27" y="408.8"/><polyline points="300.35,388.1 309.59,386.4 318.83,408.8 328.07,379 337.31,371.8 346.55,369.1 355.79,373.9 365.03,391.5 374.27,395.5" fill="none" stroke="#c8102e" stroke-width="1.15" stroke-linejoin="round"/><use href="#mr" x="300.35" y="388.1"/><use href="#mr" x="309.59" y="386.4"/><use href="#mr" x="318.83" y="408.8"/><use href="#mr" x="328.07" y="379"/><use href="#mr" x="337.31" y="371.8"/><use href="#mr" x="346.55" y="369.1"/><use href="#mr" x="355.79" y="373.9"/><use href="#mr" x="365.03" y="391.5"/><use href="#mr" x="374.27" y="395.5"/><use href="#ar" x="361.9" y="420.2"/><text class="xb" transform="translate(287.2,435.5) scale(0.62,1)" font-size="9.2" textLength="158.06" lengthAdjust="spacing" fill="#2a2a2a">Days post NS7CAR-T cells infusion</text><text class="yb" transform="translate(268.9,377.9) rotate(-90) scale(0.66,1)" text-anchor="middle" font-size="8.8" textLength="75.76" lengthAdjust="spacing" fill="#2a2a2a">Cells/µL of blood</text></g>
<g><text class="t" transform="translate(465.6,343.9) scale(0.93,1)" text-anchor="middle" font-size="9.0" fill="#2a2a2a">Pt.16</text><path d="M422.6,347.4V408.8H508.6" fill="none" stroke="#1a1a1a" stroke-width="1.2"/><path d="M419.5,408.8H422.6M419.5,397.32H422.6M419.5,385.84H422.6M419.5,374.36H422.6M419.5,362.88H422.6M419.5,351.4H422.6M427.05,408.8V411.9M434.05,408.8V411.9M441.05,408.8V411.9M448.05,408.8V411.9M455.05,408.8V411.9M462.05,408.8V411.9M469.05,408.8V411.9M476.05,408.8V411.9M483.05,408.8V411.9M490.05,408.8V411.9M497.05,408.8V411.9M504.05,408.8V411.9" stroke="#1a1a1a" stroke-width="1"/><text class="c" transform="translate(416.6,411.1) scale(0.92,1)" text-anchor="end" font-size="6.4" fill="#2a2a2a">0.1</text><text class="c" transform="translate(416.6,399.62) scale(0.92,1)" text-anchor="end" font-size="6.4" fill="#2a2a2a">1</text><text class="c" transform="translate(416.6,388.14) scale(0.92,1)" text-anchor="end" font-size="6.4" fill="#2a2a2a">10</text><text class="c" transform="translate(416.6,376.66) scale(0.92,1)" text-anchor="end" font-size="6.4" fill="#2a2a2a">100</text><text class="c" transform="translate(416.6,365.18) scale(0.92,1)" text-anchor="end" font-size="6.4" fill="#2a2a2a">1000</text><text class="c" transform="translate(416.6,353.7) scale(0.92,1)" text-anchor="end" font-size="6.4" fill="#2a2a2a">10000</text><text class="c" transform="translate(427.05,419.8) scale(0.71,1)" text-anchor="middle" font-size="6.8" fill="#2a2a2a">-2</text><text class="c" transform="translate(434.05,419.8) scale(0.71,1)" text-anchor="middle" font-size="6.8" fill="#2a2a2a">4</text><text class="c" transform="translate(441.05,419.8) scale(0.71,1)" text-anchor="middle" font-size="6.8" fill="#2a2a2a">8</text><text class="c" transform="translate(448.05,419.8) scale(0.71,1)" text-anchor="middle" font-size="6.8" fill="#2a2a2a">10</text><text class="c" transform="translate(455.05,419.8) scale(0.71,1)" text-anchor="middle" font-size="6.8" fill="#2a2a2a">12</text><text class="c" transform="translate(462.05,419.8) scale(0.71,1)" text-anchor="middle" font-size="6.8" fill="#2a2a2a">15</text><text class="c" transform="translate(469.05,419.8) scale(0.71,1)" text-anchor="middle" font-size="6.8" fill="#2a2a2a">21</text><text class="c" transform="translate(476.05,419.8) scale(0.71,1)" text-anchor="middle" font-size="6.8" fill="#2a2a2a">31</text><text class="c" transform="translate(483.05,419.8) scale(0.71,1)" text-anchor="middle" font-size="6.8" fill="#2a2a2a">38</text><text class="c" transform="translate(490.05,419.8) scale(0.71,1)" text-anchor="middle" font-size="6.8" fill="#2a2a2a">43</text><text class="c" transform="translate(497.05,419.8) scale(0.71,1)" text-anchor="middle" font-size="6.8" fill="#2a2a2a">60</text><text class="c" transform="translate(504.05,419.8) scale(0.71,1)" text-anchor="middle" font-size="6.8" fill="#2a2a2a">90</text><polyline points="427.05,408.8 434.05,406.9 441.05,393.4 448.05,390.3 455.05,405.1 462.05,403 469.05,389.3 476.05,387.6 483.05,388.4 490.05,386 497.05,408.8 504.05,382.7" fill="none" stroke="#2db34a" stroke-width="1.15" stroke-linejoin="round"/><use href="#mg" x="427.05" y="408.8"/><use href="#mg" x="434.05" y="406.9"/><use href="#mg" x="441.05" y="393.4"/><use href="#mg" x="448.05" y="390.3"/><use href="#mg" x="455.05" y="405.1"/><use href="#mg" x="462.05" y="403"/><use href="#mg" x="469.05" y="389.3"/><use href="#mg" x="476.05" y="387.6"/><use href="#mg" x="483.05" y="388.4"/><use href="#mg" x="490.05" y="386"/><use href="#mg" x="497.05" y="408.8"/><use href="#mg" x="504.05" y="382.7"/><polyline points="427.05,408.8 434.05,406.5 441.05,395.5 448.05,390.5 455.05,398.7 462.05,399.5 469.05,391.5 476.05,391.8 483.05,392.7 490.05,386 497.05,408.8 504.05,389.7" fill="none" stroke="#174f8a" stroke-width="1.15" stroke-linejoin="round"/><use href="#mb" x="427.05" y="408.8"/><use href="#mb" x="434.05" y="406.5"/><use href="#mb" x="441.05" y="395.5"/><use href="#mb" x="448.05" y="390.5"/><use href="#mb" x="455.05" y="398.7"/><use href="#mb" x="462.05" y="399.5"/><use href="#mb" x="469.05" y="391.5"/><use href="#mb" x="476.05" y="391.8"/><use href="#mb" x="483.05" y="392.7"/><use href="#mb" x="490.05" y="386"/><use href="#mb" x="497.05" y="408.8"/><use href="#mb" x="504.05" y="389.7"/><polyline points="427.05,387.2 434.05,379.5 441.05,378.4 448.05,375.2 455.05,388.4 462.05,392.7 469.05,369.4 476.05,372.2 483.05,368.5 490.05,367.2 497.05,408.8 504.05,375.8" fill="none" stroke="#c8102e" stroke-width="1.15" stroke-linejoin="round"/><use href="#mr" x="427.05" y="387.2"/><use href="#mr" x="434.05" y="379.5"/><use href="#mr" x="441.05" y="378.4"/><use href="#mr" x="448.05" y="375.2"/><use href="#mr" x="455.05" y="388.4"/><use href="#mr" x="462.05" y="392.7"/><use href="#mr" x="469.05" y="369.4"/><use href="#mr" x="476.05" y="372.2"/><use href="#mr" x="483.05" y="368.5"/><use href="#mr" x="490.05" y="367.2"/><use href="#mr" x="497.05" y="408.8"/><use href="#mr" x="504.05" y="375.8"/><use href="#ar" x="499.5" y="420.2"/><text class="xb" transform="translate(414,435.5) scale(0.62,1)" font-size="9.2" textLength="158.06" lengthAdjust="spacing" fill="#2a2a2a">Days post NS7CAR-T cells infusion</text><text class="yb" transform="translate(397.7,377.9) rotate(-90) scale(0.66,1)" text-anchor="middle" font-size="8.8" textLength="75.76" lengthAdjust="spacing" fill="#2a2a2a">Cells/µL of blood</text></g>
<g><text class="t" transform="translate(81.3,455.1) scale(0.93,1)" text-anchor="middle" font-size="9.0" fill="#2a2a2a">Pt.17</text><path d="M38.3,457.5V518.75H124.3" fill="none" stroke="#1a1a1a" stroke-width="1.2"/><path d="M35.2,518.75H38.3M35.2,507.3H38.3M35.2,495.85H38.3M35.2,484.4H38.3M35.2,472.95H38.3M35.2,461.5H38.3M45.25,518.75V521.85M55.59,518.75V521.85M65.93,518.75V521.85M76.27,518.75V521.85M86.61,518.75V521.85M96.95,518.75V521.85M107.29,518.75V521.85M117.63,518.75V521.85" stroke="#1a1a1a" stroke-width="1"/><text class="c" transform="translate(32.3,521.05) scale(0.92,1)" text-anchor="end" font-size="6.4" fill="#2a2a2a">0.1</text><text class="c" transform="translate(32.3,509.6) scale(0.92,1)" text-anchor="end" font-size="6.4" fill="#2a2a2a">1</text><text class="c" transform="translate(32.3,498.15) scale(0.92,1)" text-anchor="end" font-size="6.4" fill="#2a2a2a">10</text><text class="c" transform="translate(32.3,486.7) scale(0.92,1)" text-anchor="end" font-size="6.4" fill="#2a2a2a">100</text><text class="c" transform="translate(32.3,475.25) scale(0.92,1)" text-anchor="end" font-size="6.4" fill="#2a2a2a">1000</text><text class="c" transform="translate(32.3,463.8) scale(0.92,1)" text-anchor="end" font-size="6.4" fill="#2a2a2a">10000</text><text class="c" transform="translate(45.25,529.6) scale(0.71,1)" text-anchor="middle" font-size="6.8" fill="#2a2a2a">0</text><text class="c" transform="translate(55.59,529.6) scale(0.71,1)" text-anchor="middle" font-size="6.8" fill="#2a2a2a">4</text><text class="c" transform="translate(65.93,529.6) scale(0.71,1)" text-anchor="middle" font-size="6.8" fill="#2a2a2a">7</text><text class="c" transform="translate(76.27,529.6) scale(0.71,1)" text-anchor="middle" font-size="6.8" fill="#2a2a2a">10</text><text class="c" transform="translate(86.61,529.6) scale(0.71,1)" text-anchor="middle" font-size="6.8" fill="#2a2a2a">14</text><text class="c" transform="translate(96.95,529.6) scale(0.71,1)" text-anchor="middle" font-size="6.8" fill="#2a2a2a">20</text><text class="c" transform="translate(107.29,529.6) scale(0.71,1)" text-anchor="middle" font-size="6.8" fill="#2a2a2a">31</text><text class="c" transform="translate(117.63,529.6) scale(0.71,1)" text-anchor="middle" font-size="6.8" fill="#2a2a2a">50</text><polyline points="45.25,518.75 55.59,492.9 65.93,504.6 76.27,504.6 86.61,499.7 96.95,505.2 107.29,491.4 117.63,518.75" fill="none" stroke="#2db34a" stroke-width="1.15" stroke-linejoin="round"/><use href="#mg" x="45.25" y="518.75"/><use href="#mg" x="55.59" y="492.9"/><use href="#mg" x="65.93" y="504.6"/><use href="#mg" x="76.27" y="504.6"/><use href="#mg" x="86.61" y="499.7"/><use href="#mg" x="96.95" y="505.2"/><use href="#mg" x="107.29" y="491.4"/><use href="#mg" x="117.63" y="518.75"/><polyline points="45.25,518.75 55.59,504 65.93,500.7 76.27,503.7 86.61,512.2 96.95,516.3 107.29,505.6 117.63,508.5" fill="none" stroke="#174f8a" stroke-width="1.15" stroke-linejoin="round"/><use href="#mb" x="45.25" y="518.75"/><use href="#mb" x="55.59" y="504"/><use href="#mb" x="65.93" y="500.7"/><use href="#mb" x="76.27" y="503.7"/><use href="#mb" x="86.61" y="512.2"/><use href="#mb" x="96.95" y="516.3"/><use href="#mb" x="107.29" y="505.6"/><use href="#mb" x="117.63" y="508.5"/><polyline points="45.25,501.5 55.59,496 65.93,491.9 76.27,494.1 86.61,498.4 96.95,492.7 107.29,487.6 117.63,472" fill="none" stroke="#c8102e" stroke-width="1.15" stroke-linejoin="round"/><use href="#mr" x="45.25" y="501.5"/><use href="#mr" x="55.59" y="496"/><use href="#mr" x="65.93" y="491.9"/><use href="#mr" x="76.27" y="494.1"/><use href="#mr" x="86.61" y="498.4"/><use href="#mr" x="96.95" y="492.7"/><use href="#mr" x="107.29" y="487.6"/><use href="#mr" x="117.63" y="472"/><text class="xb" transform="translate(29.8,543) scale(0.62,1)" font-size="9.2" textLength="158.06" lengthAdjust="spacing" fill="#2a2a2a">Days post NS7CAR-T cells infusion</text><text class="yb" transform="translate(13.7,487.85) rotate(-90) scale(0.66,1)" text-anchor="middle" font-size="8.8" textLength="75.76" lengthAdjust="spacing" fill="#2a2a2a">Cells/µL of blood</text></g>
<g><text class="t" transform="translate(210.15,455.1) scale(0.93,1)" text-anchor="middle" font-size="9.0" fill="#2a2a2a">Pt.18</text><path d="M167.3,457.5V518.75H253" fill="none" stroke="#1a1a1a" stroke-width="1.2"/><path d="M164.2,518.75H167.3M164.2,507.3H167.3M164.2,495.85H167.3M164.2,484.4H167.3M164.2,472.95H167.3M164.2,461.5H167.3M172.75,518.75V521.85M181.09,518.75V521.85M189.43,518.75V521.85M197.77,518.75V521.85M206.11,518.75V521.85M214.45,518.75V521.85M222.79,518.75V521.85M231.13,518.75V521.85M239.47,518.75V521.85M247.81,518.75V521.85" stroke="#1a1a1a" stroke-width="1"/><text class="c" transform="translate(161.3,521.05) scale(0.92,1)" text-anchor="end" font-size="6.4" fill="#2a2a2a">0.1</text><text class="c" transform="translate(161.3,509.6) scale(0.92,1)" text-anchor="end" font-size="6.4" fill="#2a2a2a">1</text><text class="c" transform="translate(161.3,498.15) scale(0.92,1)" text-anchor="end" font-size="6.4" fill="#2a2a2a">10</text><text class="c" transform="translate(161.3,486.7) scale(0.92,1)" text-anchor="end" font-size="6.4" fill="#2a2a2a">100</text><text class="c" transform="translate(161.3,475.25) scale(0.92,1)" text-anchor="end" font-size="6.4" fill="#2a2a2a">1000</text><text class="c" transform="translate(161.3,463.8) scale(0.92,1)" text-anchor="end" font-size="6.4" fill="#2a2a2a">10000</text><text class="c" transform="translate(172.75,529.6) scale(0.71,1)" text-anchor="middle" font-size="6.8" fill="#2a2a2a">-1</text><text class="c" transform="translate(181.09,529.6) scale(0.71,1)" text-anchor="middle" font-size="6.8" fill="#2a2a2a">4</text><text class="c" transform="translate(189.43,529.6) scale(0.71,1)" text-anchor="middle" font-size="6.8" fill="#2a2a2a">7</text><text class="c" transform="translate(197.77,529.6) scale(0.71,1)" text-anchor="middle" font-size="6.8" fill="#2a2a2a">11</text><text class="c" transform="translate(206.11,529.6) scale(0.71,1)" text-anchor="middle" font-size="6.8" fill="#2a2a2a">13</text><text class="c" transform="translate(214.45,529.6) scale(0.71,1)" text-anchor="middle" font-size="6.8" fill="#2a2a2a">17</text><text class="c" transform="translate(222.79,529.6) scale(0.71,1)" text-anchor="middle" font-size="6.8" fill="#2a2a2a">21</text><text class="c" transform="translate(231.13,529.6) scale(0.71,1)" text-anchor="middle" font-size="6.8" fill="#2a2a2a">24</text><text class="c" transform="translate(239.47,529.6) scale(0.71,1)" text-anchor="middle" font-size="6.8" fill="#2a2a2a">32</text><text class="c" transform="translate(247.81,529.6) scale(0.71,1)" text-anchor="middle" font-size="6.8" fill="#2a2a2a">48</text><polyline points="172.75,518.75 181.09,509.9 189.43,503.4 197.77,509.9 206.11,501.9 214.45,500 222.79,518.75 231.13,509.5 239.47,498.4 247.81,505" fill="none" stroke="#2db34a" stroke-width="1.15" stroke-linejoin="round"/><use href="#mg" x="172.75" y="518.75"/><use href="#mg" x="181.09" y="509.9"/><use href="#mg" x="189.43" y="503.4"/><use href="#mg" x="197.77" y="509.9"/><use href="#mg" x="206.11" y="501.9"/><use href="#mg" x="214.45" y="500"/><use href="#mg" x="222.79" y="518.75"/><use href="#mg" x="231.13" y="509.5"/><use href="#mg" x="239.47" y="498.4"/><use href="#mg" x="247.81" y="505"/><polyline points="172.75,518.75 181.09,512.6 189.43,511.7 197.77,515.7 206.11,513.8 214.45,511.7 222.79,518.75 231.13,516 239.47,517.3 247.81,518.75" fill="none" stroke="#174f8a" stroke-width="1.15" stroke-linejoin="round"/><use href="#mb" x="172.75" y="518.75"/><use href="#mb" x="181.09" y="512.6"/><use href="#mb" x="189.43" y="511.7"/><use href="#mb" x="197.77" y="515.7"/><use href="#mb" x="206.11" y="513.8"/><use href="#mb" x="214.45" y="511.7"/><use href="#mb" x="222.79" y="518.75"/><use href="#mb" x="231.13" y="516"/><use href="#mb" x="239.47" y="517.3"/><use href="#mb" x="247.81" y="518.75"/><polyline points="172.75,498.8 181.09,484.9 189.43,483.7 197.77,487.4 206.11,481 214.45,481.6 222.79,506.1 231.13,484.9 239.47,479.4 247.81,487" fill="none" stroke="#c8102e" stroke-width="1.15" stroke-linejoin="round"/><use href="#mr" x="172.75" y="498.8"/><use href="#mr" x="181.09" y="484.9"/><use href="#mr" x="189.43" y="483.7"/><use href="#mr" x="197.77" y="487.4"/><use href="#mr" x="206.11" y="481"/><use href="#mr" x="214.45" y="481.6"/><use href="#mr" x="222.79" y="506.1"/><use href="#mr" x="231.13" y="484.9"/><use href="#mr" x="239.47" y="479.4"/><use href="#mr" x="247.81" y="487"/><text class="xb" transform="translate(159,543) scale(0.62,1)" font-size="9.2" textLength="158.06" lengthAdjust="spacing" fill="#2a2a2a">Days post NS7CAR-T cells infusion</text><text class="yb" transform="translate(142.6,487.85) rotate(-90) scale(0.66,1)" text-anchor="middle" font-size="8.8" textLength="75.76" lengthAdjust="spacing" fill="#2a2a2a">Cells/µL of blood</text></g>
<g><text class="t" transform="translate(337.52,455.1) scale(0.93,1)" text-anchor="middle" font-size="9.0" fill="#2a2a2a">Pt.19</text><path d="M294.25,457.5V518.75H380.8" fill="none" stroke="#1a1a1a" stroke-width="1.2"/><path d="M291.15,518.75H294.25M291.15,507.3H294.25M291.15,495.85H294.25M291.15,484.4H294.25M291.15,472.95H294.25M291.15,461.5H294.25M302.05,518.75V521.85M313.82,518.75V521.85M325.59,518.75V521.85M337.36,518.75V521.85M349.13,518.75V521.85M360.9,518.75V521.85M372.67,518.75V521.85" stroke="#1a1a1a" stroke-width="1"/><text class="c" transform="translate(288.25,521.05) scale(0.92,1)" text-anchor="end" font-size="6.4" fill="#2a2a2a">0.1</text><text class="c" transform="translate(288.25,509.6) scale(0.92,1)" text-anchor="end" font-size="6.4" fill="#2a2a2a">1</text><text class="c" transform="translate(288.25,498.15) scale(0.92,1)" text-anchor="end" font-size="6.4" fill="#2a2a2a">10</text><text class="c" transform="translate(288.25,486.7) scale(0.92,1)" text-anchor="end" font-size="6.4" fill="#2a2a2a">100</text><text class="c" transform="translate(288.25,475.25) scale(0.92,1)" text-anchor="end" font-size="6.4" fill="#2a2a2a">1000</text><text class="c" transform="translate(288.25,463.8) scale(0.92,1)" text-anchor="end" font-size="6.4" fill="#2a2a2a">10000</text><text class="c" transform="translate(302.05,529.6) scale(0.71,1)" text-anchor="middle" font-size="6.8" fill="#2a2a2a">0</text><text class="c" transform="translate(313.82,529.6) scale(0.71,1)" text-anchor="middle" font-size="6.8" fill="#2a2a2a">4</text><text class="c" transform="translate(325.59,529.6) scale(0.71,1)" text-anchor="middle" font-size="6.8" fill="#2a2a2a">7</text><text class="c" transform="translate(337.36,529.6) scale(0.71,1)" text-anchor="middle" font-size="6.8" fill="#2a2a2a">11</text><text class="c" transform="translate(349.13,529.6) scale(0.71,1)" text-anchor="middle" font-size="6.8" fill="#2a2a2a">15</text><text class="c" transform="translate(360.9,529.6) scale(0.71,1)" text-anchor="middle" font-size="6.8" fill="#2a2a2a">22</text><text class="c" transform="translate(372.67,529.6) scale(0.71,1)" text-anchor="middle" font-size="6.8" fill="#2a2a2a">28</text><polyline points="302.05,513.2 313.82,513.2 325.59,504.6 337.36,518.75 349.13,513.6 360.9,518.75 372.67,507.1" fill="none" stroke="#2db34a" stroke-width="1.15" stroke-linejoin="round"/><use href="#mg" x="302.05" y="513.2"/><use href="#mg" x="313.82" y="513.2"/><use href="#mg" x="325.59" y="504.6"/><use href="#mg" x="337.36" y="518.75"/><use href="#mg" x="349.13" y="513.6"/><use href="#mg" x="360.9" y="518.75"/><use href="#mg" x="372.67" y="507.1"/><polyline points="302.05,504.8 313.82,518.75 325.59,513.5 337.36,516.9 349.13,518.75 360.9,514.2 372.67,504" fill="none" stroke="#174f8a" stroke-width="1.15" stroke-linejoin="round"/><use href="#mb" x="302.05" y="504.8"/><use href="#mb" x="313.82" y="518.75"/><use href="#mb" x="325.59" y="513.5"/><use href="#mb" x="337.36" y="516.9"/><use href="#mb" x="349.13" y="518.75"/><use href="#mb" x="360.9" y="514.2"/><use href="#mb" x="372.67" y="504"/><polyline points="302.05,493.9 313.82,492.3 325.59,486.8 337.36,513.8 349.13,502.1 360.9,496 372.67,481.6" fill="none" stroke="#c8102e" stroke-width="1.15" stroke-linejoin="round"/><use href="#mr" x="302.05" y="493.9"/><use href="#mr" x="313.82" y="492.3"/><use href="#mr" x="325.59" y="486.8"/><use href="#mr" x="337.36" y="513.8"/><use href="#mr" x="349.13" y="502.1"/><use href="#mr" x="360.9" y="496"/><use href="#mr" x="372.67" y="481.6"/><text class="xb" transform="translate(285,543) scale(0.62,1)" font-size="9.2" textLength="158.06" lengthAdjust="spacing" fill="#2a2a2a">Days post NS7CAR-T cells infusion</text><text class="yb" transform="translate(268.9,487.85) rotate(-90) scale(0.66,1)" text-anchor="middle" font-size="8.8" textLength="75.76" lengthAdjust="spacing" fill="#2a2a2a">Cells/µL of blood</text></g>
<g><text class="t" transform="translate(465.9,455.1) scale(0.93,1)" text-anchor="middle" font-size="9.0" fill="#2a2a2a">Pt.20</text><path d="M422.6,457.5V518.75H509.2" fill="none" stroke="#1a1a1a" stroke-width="1.2"/><path d="M419.5,518.75H422.6M419.5,507.3H422.6M419.5,495.85H422.6M419.5,484.4H422.6M419.5,472.95H422.6M419.5,461.5H422.6M430.45,518.75V521.85M442.22,518.75V521.85M453.99,518.75V521.85M465.76,518.75V521.85M477.53,518.75V521.85M489.3,518.75V521.85M501.07,518.75V521.85" stroke="#1a1a1a" stroke-width="1"/><text class="c" transform="translate(416.6,521.05) scale(0.92,1)" text-anchor="end" font-size="6.4" fill="#2a2a2a">0.1</text><text class="c" transform="translate(416.6,509.6) scale(0.92,1)" text-anchor="end" font-size="6.4" fill="#2a2a2a">1</text><text class="c" transform="translate(416.6,498.15) scale(0.92,1)" text-anchor="end" font-size="6.4" fill="#2a2a2a">10</text><text class="c" transform="translate(416.6,486.7) scale(0.92,1)" text-anchor="end" font-size="6.4" fill="#2a2a2a">100</text><text class="c" transform="translate(416.6,475.25) scale(0.92,1)" text-anchor="end" font-size="6.4" fill="#2a2a2a">1000</text><text class="c" transform="translate(416.6,463.8) scale(0.92,1)" text-anchor="end" font-size="6.4" fill="#2a2a2a">10000</text><text class="c" transform="translate(430.45,529.6) scale(0.71,1)" text-anchor="middle" font-size="6.8" fill="#2a2a2a">0</text><text class="c" transform="translate(442.22,529.6) scale(0.71,1)" text-anchor="middle" font-size="6.8" fill="#2a2a2a">4</text><text class="c" transform="translate(453.99,529.6) scale(0.71,1)" text-anchor="middle" font-size="6.8" fill="#2a2a2a">7</text><text class="c" transform="translate(465.76,529.6) scale(0.71,1)" text-anchor="middle" font-size="6.8" fill="#2a2a2a">11</text><text class="c" transform="translate(477.53,529.6) scale(0.71,1)" text-anchor="middle" font-size="6.8" fill="#2a2a2a">15</text><text class="c" transform="translate(489.3,529.6) scale(0.71,1)" text-anchor="middle" font-size="6.8" fill="#2a2a2a">21</text><text class="c" transform="translate(501.07,529.6) scale(0.71,1)" text-anchor="middle" font-size="6.8" fill="#2a2a2a">29</text><polyline points="430.45,510.7 442.22,501.1 453.99,497.5 465.76,490.8 477.53,511.1 489.3,499.1 501.07,498.8" fill="none" stroke="#2db34a" stroke-width="1.15" stroke-linejoin="round"/><use href="#mg" x="430.45" y="510.7"/><use href="#mg" x="442.22" y="501.1"/><use href="#mg" x="453.99" y="497.5"/><use href="#mg" x="465.76" y="490.8"/><use href="#mg" x="477.53" y="511.1"/><use href="#mg" x="489.3" y="499.1"/><use href="#mg" x="501.07" y="498.8"/><polyline points="430.45,518.75 442.22,518.75 453.99,513.8 465.76,491.7 477.53,518.75 489.3,513.5 501.07,509.5" fill="none" stroke="#174f8a" stroke-width="1.15" stroke-linejoin="round"/><use href="#mb" x="430.45" y="518.75"/><use href="#mb" x="442.22" y="518.75"/><use href="#mb" x="453.99" y="513.8"/><use href="#mb" x="465.76" y="491.7"/><use href="#mb" x="477.53" y="518.75"/><use href="#mb" x="489.3" y="513.5"/><use href="#mb" x="501.07" y="509.5"/><polyline points="430.45,490.2 442.22,489.6 453.99,487.4 465.76,484 477.53,506.1 489.3,487.7 501.07,486.1" fill="none" stroke="#c8102e" stroke-width="1.15" stroke-linejoin="round"/><use href="#mr" x="430.45" y="490.2"/><use href="#mr" x="442.22" y="489.6"/><use href="#mr" x="453.99" y="487.4"/><use href="#mr" x="465.76" y="484"/><use href="#mr" x="477.53" y="506.1"/><use href="#mr" x="489.3" y="487.7"/><use href="#mr" x="501.07" y="486.1"/><text class="xb" transform="translate(415,543) scale(0.62,1)" font-size="9.2" textLength="158.06" lengthAdjust="spacing" fill="#2a2a2a">Days post NS7CAR-T cells infusion</text><text class="yb" transform="translate(397.7,487.85) rotate(-90) scale(0.66,1)" text-anchor="middle" font-size="8.8" textLength="75.76" lengthAdjust="spacing" fill="#2a2a2a">Cells/µL of blood</text></g>
<g><path d="M143.8,559.6H157.9" stroke="#c8102e" stroke-width="1.1"/><use href="#mr" x="150.85" y="559.6" transform=""/><text class="lb" transform="translate(161.3,562.2) scale(0.8,1)" font-size="8.2" textLength="25.00" lengthAdjust="spacing" fill="#2a2a2a">T cells</text><path d="M195,559.6H208.8" stroke="#174f8a" stroke-width="1.1"/><use href="#mb" x="201.9" y="559.6" transform=""/><text class="lb" transform="translate(212.0,562.2) scale(0.8,1)" font-size="8.2" textLength="25.62" lengthAdjust="spacing" fill="#2a2a2a">B cells</text><path d="M245.5,559.6H259.3" stroke="#2db34a" stroke-width="1.1"/><use href="#mg" x="252.4" y="559.6" transform=""/><text class="lb" transform="translate(262.8,562.2) scale(0.8,1)" font-size="8.2" textLength="33.12" lengthAdjust="spacing" fill="#2a2a2a">NK cells</text><use href="#ar" transform="translate(307.6,556.4) scale(1.1)"/><text class="lb" transform="translate(312.5,562.2) scale(0.8,1)" font-size="8.2" textLength="74.12" lengthAdjust="spacing" fill="#2a2a2a">Date of allo-HSCT</text></g>
<rect x="0.5" y="0.5" width="519" height="568" fill="none" stroke="#000" stroke-width="1.2"/>
</svg>
</body></html>
